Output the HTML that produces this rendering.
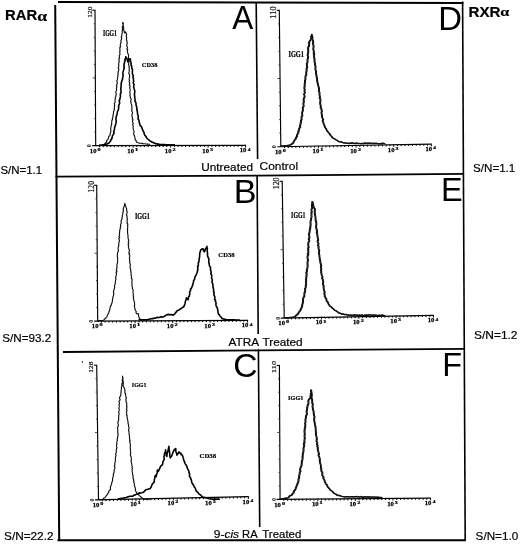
<!DOCTYPE html>
<html><head><meta charset="utf-8"><style>
html,body{margin:0;padding:0;background:#fff;width:520px;height:544px;overflow:hidden}
svg{position:absolute;left:0;top:0;display:block;will-change:transform}
</style></head><body>
<svg width="520" height="544" viewBox="0 0 520 544">
<rect width="520" height="544" fill="#fff"/>
<line x1="58" y1="1.9" x2="463.5" y2="3.0" stroke="#000" stroke-width="2.0"/>
<line x1="55.2" y1="5" x2="59.2" y2="541" stroke="#000" stroke-width="2.0"/>
<line x1="57.5" y1="540.3" x2="465.8" y2="540.3" stroke="#000" stroke-width="2.0"/>
<line x1="462.6" y1="1.5" x2="465.2" y2="540.5" stroke="#000" stroke-width="1.6"/>
<line x1="256.2" y1="2.5" x2="257.6" y2="159" stroke="#000" stroke-width="1.6"/>
<line x1="257.1" y1="175" x2="258.2" y2="334" stroke="#000" stroke-width="1.6"/>
<line x1="258.4" y1="349.5" x2="259.7" y2="527" stroke="#000" stroke-width="1.6"/>
<polyline points="55.5,176.6 256,175.6 463.6,173.9" fill="none" stroke="#000" stroke-width="1.9"/>
<polyline points="63,352 258,350.4 464.5,348.9" fill="none" stroke="#000" stroke-width="1.9"/>
<text transform="translate(232.30,28.80) scale(0.929,1)" font-family='"Liberation Sans", sans-serif' font-size="33.91">A</text>
<text transform="translate(438.37,29.60) scale(0.982,1)" font-family='"Liberation Sans", sans-serif' font-size="33.48">D</text>
<text transform="translate(233.77,202.50) scale(1.029,1)" font-family='"Liberation Sans", sans-serif' font-size="33.19">B</text>
<text transform="translate(440.91,201.30) scale(0.956,1)" font-family='"Liberation Sans", sans-serif' font-size="33.91">E</text>
<text transform="translate(233.32,377.36) scale(0.987,1)" font-family='"Liberation Sans", sans-serif' font-size="34.08">C</text>
<text transform="translate(442.30,376.00) scale(0.953,1)" font-family='"Liberation Sans", sans-serif' font-size="34.06">F</text>
<text transform="translate(5.06,20.40) scale(1.013,1)" font-family='Liberation Sans' font-weight="bold" font-style="normal" font-size="14.64" stroke="#000" stroke-width="0.20">RAR</text>
<text transform="translate(37.29,20.55) scale(1.176,1)" font-family='Liberation Serif' font-weight="bold" font-style="normal" font-size="15.00" stroke="#000" stroke-width="0.17">α</text>
<text transform="translate(468.44,16.50) scale(1.104,1)" font-family='Liberation Sans' font-weight="bold" font-style="normal" font-size="13.77" stroke="#000" stroke-width="0.18">RXR</text>
<text transform="translate(500.35,16.47) scale(1.281,1)" font-family='Liberation Serif' font-weight="bold" font-style="normal" font-size="12.71" stroke="#000" stroke-width="0.16">α</text>
<text transform="translate(0.43,174.40) scale(1.099,1)" font-family='Liberation Sans' font-weight="normal" font-style="normal" font-size="10.41" stroke="#000" stroke-width="0.18">S/N=1.1</text>
<text transform="translate(2.32,342.19) scale(1.065,1)" font-family='Liberation Sans' font-weight="normal" font-style="normal" font-size="10.95" stroke="#000" stroke-width="0.19">S/N=93.2</text>
<text transform="translate(4.01,539.69) scale(1.078,1)" font-family='Liberation Sans' font-weight="normal" font-style="normal" font-size="10.95" stroke="#000" stroke-width="0.19">S/N=22.2</text>
<text transform="translate(473.12,171.79) scale(1.085,1)" font-family='Liberation Sans' font-weight="normal" font-style="normal" font-size="10.68" stroke="#000" stroke-width="0.18">S/N=1.1</text>
<text transform="translate(474.10,338.69) scale(1.076,1)" font-family='Liberation Sans' font-weight="normal" font-style="normal" font-size="11.08" stroke="#000" stroke-width="0.19">S/N=1.2</text>
<text transform="translate(475.62,540.40) scale(1.153,1)" font-family='Liberation Sans' font-weight="normal" font-style="normal" font-size="10.14" stroke="#000" stroke-width="0.17">S/N=1.0</text>
<text transform="translate(201.26,170.68) scale(1.003,1)" font-family='Liberation Sans' font-weight="normal" font-style="normal" font-size="11.76" stroke="#000" stroke-width="0.20">Untreated</text>
<text transform="translate(259.60,169.98) scale(1.029,1)" font-family='Liberation Sans' font-weight="normal" font-style="normal" font-size="11.62" stroke="#000" stroke-width="0.19">Control</text>
<text transform="translate(228.50,345.70) scale(1.010,1)" font-family='Liberation Sans' font-weight="normal" font-style="normal" font-size="11.74" stroke="#000" stroke-width="0.20">ATRA</text>
<text transform="translate(262.46,345.59) scale(1.079,1)" font-family='Liberation Sans' font-weight="normal" font-style="normal" font-size="10.95" stroke="#000" stroke-width="0.19">Treated</text>
<text transform="translate(213.70,537.50) scale(1.159,1)" font-family='Liberation Sans' font-weight="normal" font-style="normal" font-size="10.41" stroke="#000" stroke-width="0.17">9-<tspan font-style="italic">cis</tspan></text>
<text transform="translate(242.10,537.50) scale(1.032,1)" font-family='Liberation Sans' font-weight="normal" font-style="normal" font-size="10.87" stroke="#000" stroke-width="0.19">RA</text>
<text transform="translate(262.27,537.70) scale(1.100,1)" font-family='Liberation Sans' font-weight="normal" font-style="normal" font-size="10.41" stroke="#000" stroke-width="0.18">Treated</text>
<line x1="95.0" y1="10.2" x2="95.7" y2="145.7" stroke="#000" stroke-width="1.15"/>
<line x1="92.4" y1="10.2" x2="95.5" y2="10.2" stroke="#000" stroke-width="1.1"/>
<line x1="93.66999999999999" y1="23.75" x2="95.07" y2="23.75" stroke="#333" stroke-width="0.9"/>
<line x1="93.74" y1="37.3" x2="95.14" y2="37.3" stroke="#333" stroke-width="0.9"/>
<line x1="93.81" y1="50.849999999999994" x2="95.21000000000001" y2="50.849999999999994" stroke="#333" stroke-width="0.9"/>
<line x1="93.88" y1="64.4" x2="95.28" y2="64.4" stroke="#333" stroke-width="0.9"/>
<line x1="92.75" y1="77.95" x2="95.35" y2="77.95" stroke="#333" stroke-width="0.9"/>
<line x1="94.02" y1="91.5" x2="95.42" y2="91.5" stroke="#333" stroke-width="0.9"/>
<line x1="94.09" y1="105.05" x2="95.49000000000001" y2="105.05" stroke="#333" stroke-width="0.9"/>
<line x1="94.16" y1="118.60000000000001" x2="95.56" y2="118.60000000000001" stroke="#333" stroke-width="0.9"/>
<line x1="94.22999999999999" y1="132.15" x2="95.63" y2="132.15" stroke="#333" stroke-width="0.9"/>
<line x1="92.2" y1="145.70933955970645" x2="245.6" y2="145.3" stroke="#000" stroke-width="1.2"/>
<line x1="99.4475" y1="145.69" x2="99.4475" y2="147.19" stroke="#000" stroke-width="1.0"/>
<line x1="103.19500000000001" y1="145.67999999999998" x2="103.19500000000001" y2="147.17999999999998" stroke="#000" stroke-width="1.0"/>
<line x1="106.9425" y1="145.67" x2="106.9425" y2="147.17" stroke="#000" stroke-width="1.0"/>
<line x1="110.69" y1="145.66" x2="110.69" y2="147.16" stroke="#000" stroke-width="1.0"/>
<line x1="114.4375" y1="145.64999999999998" x2="114.4375" y2="147.14999999999998" stroke="#000" stroke-width="1.0"/>
<line x1="118.185" y1="145.64" x2="118.185" y2="147.14" stroke="#000" stroke-width="1.0"/>
<line x1="121.9325" y1="145.63" x2="121.9325" y2="147.13" stroke="#000" stroke-width="1.0"/>
<line x1="125.68" y1="145.62" x2="125.68" y2="147.12" stroke="#000" stroke-width="1.0"/>
<line x1="129.4275" y1="145.60999999999999" x2="129.4275" y2="147.10999999999999" stroke="#000" stroke-width="1.0"/>
<line x1="133.175" y1="145.1" x2="133.175" y2="147.79999999999998" stroke="#000" stroke-width="0.9"/>
<line x1="136.92249999999999" y1="145.59" x2="136.92249999999999" y2="147.09" stroke="#000" stroke-width="1.0"/>
<line x1="140.67" y1="145.57999999999998" x2="140.67" y2="147.07999999999998" stroke="#000" stroke-width="1.0"/>
<line x1="144.4175" y1="145.57" x2="144.4175" y2="147.07" stroke="#000" stroke-width="1.0"/>
<line x1="148.165" y1="145.56" x2="148.165" y2="147.06" stroke="#000" stroke-width="1.0"/>
<line x1="151.9125" y1="145.55" x2="151.9125" y2="147.05" stroke="#000" stroke-width="1.0"/>
<line x1="155.66" y1="145.54" x2="155.66" y2="147.04" stroke="#000" stroke-width="1.0"/>
<line x1="159.4075" y1="145.53" x2="159.4075" y2="147.03" stroke="#000" stroke-width="1.0"/>
<line x1="163.155" y1="145.52" x2="163.155" y2="147.02" stroke="#000" stroke-width="1.0"/>
<line x1="166.90249999999997" y1="145.51" x2="166.90249999999997" y2="147.01" stroke="#000" stroke-width="1.0"/>
<line x1="170.64999999999998" y1="145.0" x2="170.64999999999998" y2="147.7" stroke="#000" stroke-width="0.9"/>
<line x1="174.39749999999998" y1="145.49" x2="174.39749999999998" y2="146.99" stroke="#000" stroke-width="1.0"/>
<line x1="178.14499999999998" y1="145.48" x2="178.14499999999998" y2="146.98" stroke="#000" stroke-width="1.0"/>
<line x1="181.89249999999998" y1="145.47" x2="181.89249999999998" y2="146.97" stroke="#000" stroke-width="1.0"/>
<line x1="185.64" y1="145.46" x2="185.64" y2="146.96" stroke="#000" stroke-width="1.0"/>
<line x1="189.3875" y1="145.45" x2="189.3875" y2="146.95" stroke="#000" stroke-width="1.0"/>
<line x1="193.135" y1="145.44" x2="193.135" y2="146.94" stroke="#000" stroke-width="1.0"/>
<line x1="196.8825" y1="145.43" x2="196.8825" y2="146.93" stroke="#000" stroke-width="1.0"/>
<line x1="200.63" y1="145.42000000000002" x2="200.63" y2="146.92000000000002" stroke="#000" stroke-width="1.0"/>
<line x1="204.3775" y1="145.41" x2="204.3775" y2="146.91" stroke="#000" stroke-width="1.0"/>
<line x1="208.125" y1="144.9" x2="208.125" y2="147.6" stroke="#000" stroke-width="0.9"/>
<line x1="211.8725" y1="145.39000000000001" x2="211.8725" y2="146.89000000000001" stroke="#000" stroke-width="1.0"/>
<line x1="215.62" y1="145.38" x2="215.62" y2="146.88" stroke="#000" stroke-width="1.0"/>
<line x1="219.36749999999998" y1="145.37" x2="219.36749999999998" y2="146.87" stroke="#000" stroke-width="1.0"/>
<line x1="223.115" y1="145.36" x2="223.115" y2="146.86" stroke="#000" stroke-width="1.0"/>
<line x1="226.86249999999995" y1="145.35000000000002" x2="226.86249999999995" y2="146.85000000000002" stroke="#000" stroke-width="1.0"/>
<line x1="230.61" y1="145.34" x2="230.61" y2="146.84" stroke="#000" stroke-width="1.0"/>
<line x1="234.35749999999996" y1="145.33" x2="234.35749999999996" y2="146.83" stroke="#000" stroke-width="1.0"/>
<line x1="238.10499999999996" y1="145.32000000000002" x2="238.10499999999996" y2="146.82000000000002" stroke="#000" stroke-width="1.0"/>
<line x1="241.85249999999996" y1="145.31" x2="241.85249999999996" y2="146.81" stroke="#000" stroke-width="1.0"/>
<line x1="245.6" y1="144.8" x2="245.6" y2="147.5" stroke="#000" stroke-width="1.0"/>
<text transform="translate(89.86,152.86) scale(0.991,1)" font-family='"Liberation Serif", serif' font-weight="bold" font-size="6.76" fill="#000" stroke="#000" stroke-width="0.25">10</text>
<text transform="translate(97.55,150.82) scale(1.481,1)" font-family='"Liberation Serif", serif' font-weight="bold" font-size="4.18" fill="#000" stroke="#000" stroke-width="0.20">0</text>
<text transform="translate(127.34,152.76) scale(0.991,1)" font-family='"Liberation Serif", serif' font-weight="bold" font-size="6.76" fill="#000" stroke="#000" stroke-width="0.25">10</text>
<text transform="translate(134.71,150.80) scale(1.656,1)" font-family='"Liberation Serif", serif' font-weight="bold" font-size="4.24" fill="#000" stroke="#000" stroke-width="0.20">1</text>
<text transform="translate(164.81,152.66) scale(0.991,1)" font-family='"Liberation Serif", serif' font-weight="bold" font-size="6.76" fill="#000" stroke="#000" stroke-width="0.25">10</text>
<text transform="translate(172.50,150.66) scale(1.459,1)" font-family='"Liberation Serif", serif' font-weight="bold" font-size="4.24" fill="#000" stroke="#000" stroke-width="0.20">2</text>
<text transform="translate(202.29,152.56) scale(0.991,1)" font-family='"Liberation Serif", serif' font-weight="bold" font-size="6.76" fill="#000" stroke="#000" stroke-width="0.25">10</text>
<text transform="translate(209.98,150.52) scale(1.447,1)" font-family='"Liberation Serif", serif' font-weight="bold" font-size="4.18" fill="#000" stroke="#000" stroke-width="0.20">3</text>
<text transform="translate(239.76,152.46) scale(0.991,1)" font-family='"Liberation Serif", serif' font-weight="bold" font-size="6.76" fill="#000" stroke="#000" stroke-width="0.25">10</text>
<text transform="translate(247.64,150.50) scale(1.284,1)" font-family='"Liberation Serif", serif' font-weight="bold" font-size="4.31" fill="#000" stroke="#000" stroke-width="0.20">4</text>
<text transform="translate(91.10,145.80) rotate(-90)" x="0" y="0" text-anchor="middle" font-family='"Liberation Serif", serif' font-size="6.2" font-weight="bold" fill="#111">0</text>
<text transform="translate(91.66,17.67) rotate(-90) scale(1.055,1)" font-family='"Liberation Serif", serif' font-weight="normal" font-size="7.06" fill="#222" stroke="#222" stroke-width="0.25">120</text>
<polyline points="99.0,145.0 100.2,144.9 101.5,144.8 102.7,144.7 103.9,144.6 104.8,143.7 105.8,142.8 106.8,142.2 106.6,140.7 107.6,139.7 108.2,138.9 108.5,137.5 108.8,136.5 109.8,135.6 110.2,134.0 110.2,133.0 110.9,132.0 110.7,130.1 110.8,128.9 110.7,127.9 111.0,126.8 111.2,125.8 111.7,124.3 111.6,122.9 111.9,121.5 111.8,120.3 112.5,119.5 112.4,117.9 113.0,117.4 112.9,115.7 113.1,114.5 113.6,113.5 113.4,111.8 114.1,110.7 114.1,109.3 114.4,108.9 114.4,107.4 114.6,105.9 114.6,104.8 114.3,103.6 115.1,102.3 115.1,101.5 115.0,100.3 115.4,98.3 115.3,97.6 115.9,96.3 116.0,95.0 116.3,93.9 115.8,92.5 116.0,91.2 116.6,90.2 116.5,89.1 116.4,88.2 116.9,86.8 116.4,85.7 116.9,84.2 117.3,83.7 117.1,82.1 116.8,81.0 117.2,80.0 117.6,78.9 117.4,78.1 118.0,76.4 117.6,75.6 118.2,74.4 118.1,72.9 118.1,71.7 118.3,71.4 118.9,69.6 118.6,68.8 118.2,67.9 118.7,66.8 118.8,65.2 118.6,64.5 118.8,63.1 118.8,62.3 119.4,61.3 118.9,60.2 119.1,58.4 119.6,58.2 119.3,56.3 119.3,55.4 120.0,54.7 119.9,53.6 119.7,51.8 120.0,51.6 119.9,50.0 119.9,49.0 119.8,47.5 120.7,46.7 120.2,45.6 120.4,44.4 120.5,43.5 121.3,41.9 120.8,40.8 121.3,39.8 121.8,38.2 121.2,37.1 121.7,36.0 121.9,35.2 122.0,33.8 122.3,32.6 122.2,31.5 122.5,30.2 122.3,28.9 122.6,28.0 122.3,26.8 122.9,25.9 123.2,24.8 122.5,23.3 123.0,22.4 123.3,23.3 123.0,24.6 123.6,26.6 123.4,27.6 123.8,28.8 123.6,30.0 124.3,31.8 124.5,33.0 125.7,31.8 126.0,33.2 126.5,33.8 126.6,35.0 126.2,36.5 126.7,37.4 126.6,38.1 126.4,40.0 126.9,40.4 126.9,41.9 127.3,42.8 126.9,44.6 126.6,45.6 127.3,46.9 127.5,47.7 126.8,49.0 127.7,49.8 127.3,51.3 127.6,52.5 128.0,53.7 128.6,55.4 128.6,56.3 128.4,57.5 128.5,58.8 128.4,59.8 129.0,61.2 128.7,61.8 128.8,63.6 128.6,64.7 128.9,65.8 129.3,66.5 129.0,67.6 129.3,68.5 129.1,70.2 129.2,71.3 129.1,71.9 128.7,73.5 129.5,74.6 129.6,75.6 129.6,76.7 129.4,78.2 129.1,78.8 129.3,80.0 129.4,80.7 129.2,81.9 129.8,83.3 129.3,84.8 130.0,85.6 129.9,87.1 129.7,87.7 130.0,88.8 130.2,90.0 130.1,90.9 129.8,92.3 130.0,93.5 130.2,95.0 129.9,95.5 130.2,96.7 130.4,97.6 131.1,98.7 131.1,100.0 130.7,100.9 130.8,102.0 131.2,103.5 131.6,104.6 131.8,105.7 131.9,106.4 131.8,108.1 131.9,108.8 132.0,109.8 131.6,110.8 132.5,112.3 132.5,113.0 132.1,113.9 132.0,115.1 132.0,116.2 132.5,117.7 132.2,118.9 133.1,119.7 132.3,121.3 132.8,122.2 133.3,123.4 132.6,124.6 133.1,125.6 133.1,126.5 133.1,127.2 133.1,128.3 133.3,129.4 133.8,130.6 134.1,132.0 133.7,132.9 133.7,133.9 134.1,135.3 134.6,136.1 134.8,137.8 135.2,138.5 135.2,139.7 136.1,140.5 136.4,141.9 137.4,142.4 138.2,142.8 139.5,143.3 140.9,143.2 142.2,143.4 143.5,143.7 144.8,143.8 146.1,144.0 147.4,144.1 148.7,144.3 150.0,144.4" fill="none" stroke="#111" stroke-width="1.15" stroke-linejoin="round" />
<polyline points="102.0,145.0 103.3,144.8 104.5,144.7 105.8,144.5 106.9,143.9 108.1,143.4 109.2,142.8 110.0,141.7 110.6,141.2 110.8,139.9 111.7,138.9 112.0,138.1 112.4,136.0 112.7,135.4 113.6,134.0 114.2,132.9 113.6,132.2 114.1,130.5 114.4,129.8 114.5,128.2 114.6,127.5 115.0,126.6 115.4,125.0 115.6,124.3 116.0,123.5 116.1,122.3 116.2,120.6 115.9,119.7 116.1,117.8 116.2,117.0 116.4,116.0 117.0,114.5 117.1,113.8 117.3,112.5 117.5,111.4 118.3,110.1 118.5,109.2 118.6,108.1 118.7,107.1 118.6,105.9 119.0,104.8 119.4,104.0 119.7,102.7 119.1,100.7 119.9,99.6 119.8,98.9 120.4,97.1 120.4,95.9 120.4,95.0 120.3,94.2 121.0,92.7 121.1,91.9 121.0,90.2 120.7,89.4 120.9,87.8 121.0,86.9 121.2,85.9 121.1,84.3 121.3,83.5 121.4,82.4 122.0,80.8 122.0,80.0 122.6,79.3 122.6,77.5 123.0,76.4 123.1,75.3 123.0,74.5 122.9,73.5 122.9,72.4 123.2,71.2 123.6,70.3 123.9,68.8 124.3,67.7 123.8,66.9 124.1,65.9 124.0,64.2 124.5,63.1 124.4,61.9 125.2,60.7 125.0,60.0 124.8,59.3 125.9,58.2 125.7,56.7 126.5,58.0 127.3,59.3 127.4,60.4 128.0,62.0 128.8,60.2 129.3,59.0 130.3,58.7 130.4,59.9 130.6,61.3 131.0,63.0 131.2,64.0 131.0,65.0 131.8,66.3 131.7,67.6 132.0,68.8 132.5,69.5 132.4,71.2 132.4,72.4 132.3,73.2 132.4,74.0 133.2,75.3 133.1,76.8 132.9,77.4 133.4,78.6 133.5,80.0 133.7,81.3 133.2,82.1 133.4,83.4 134.1,84.4 133.8,85.5 133.7,87.2 134.0,88.3 134.2,88.8 134.6,90.2 134.8,91.5 134.7,92.1 134.6,93.5 134.4,94.9 134.7,96.2 134.7,97.2 134.9,98.8 135.1,100.0 135.0,101.4 135.8,102.3 136.0,103.4 136.0,104.6 136.1,105.3 136.7,107.0 136.8,107.8 136.9,108.8 136.8,109.6 137.3,110.9 137.3,112.4 137.6,112.9 137.6,114.4 138.2,115.9 138.3,116.3 138.2,117.7 138.0,119.1 138.7,119.8 139.1,120.7 139.1,122.1 139.5,123.3 140.0,124.7 140.2,125.7 141.3,126.5 141.9,127.7 142.3,129.1 142.7,129.9 143.1,130.9 143.7,131.7 144.0,132.7 144.3,134.2 144.9,135.3 146.0,136.3 146.6,138.0 147.8,139.0 148.5,139.6 149.7,140.6 150.6,141.3 152.4,142.4 153.5,142.5 154.7,143.3 155.9,143.7 157.0,143.9 158.1,144.1 159.2,144.3 160.3,144.5 161.4,144.5 162.6,144.6 163.7,144.6 164.8,144.6 166.0,144.7 167.1,144.7 168.2,144.7 169.3,144.7 170.5,144.8 171.6,144.8 172.7,144.8 173.9,144.9 175.0,144.9" fill="none" stroke="#000" stroke-width="1.6" stroke-linejoin="round" />
<text transform="translate(102.93,35.82) scale(0.746,1)" font-family='"Liberation Serif", serif' font-weight="bold" font-size="7.61" fill="#000" stroke="#000" stroke-width="0.20">IGG1</text>
<text transform="translate(141.78,66.67) scale(0.974,1)" font-family='"Liberation Serif", serif' font-weight="bold" font-size="6.57" fill="#000" stroke="#000" stroke-width="0.20">CD38</text>
<line x1="279.3" y1="10.3" x2="280.8" y2="146.7" stroke="#000" stroke-width="1.15"/>
<line x1="276.7" y1="10.3" x2="279.8" y2="10.3" stroke="#000" stroke-width="1.1"/>
<line x1="278.05" y1="23.939999999999998" x2="279.45" y2="23.939999999999998" stroke="#333" stroke-width="0.9"/>
<line x1="278.20000000000005" y1="37.58" x2="279.6" y2="37.58" stroke="#333" stroke-width="0.9"/>
<line x1="278.35" y1="51.22" x2="279.75" y2="51.22" stroke="#333" stroke-width="0.9"/>
<line x1="278.50000000000006" y1="64.85999999999999" x2="279.90000000000003" y2="64.85999999999999" stroke="#333" stroke-width="0.9"/>
<line x1="277.45" y1="78.49999999999999" x2="280.05" y2="78.49999999999999" stroke="#333" stroke-width="0.9"/>
<line x1="278.8" y1="92.13999999999999" x2="280.2" y2="92.13999999999999" stroke="#333" stroke-width="0.9"/>
<line x1="278.95000000000005" y1="105.77999999999999" x2="280.35" y2="105.77999999999999" stroke="#333" stroke-width="0.9"/>
<line x1="279.1" y1="119.41999999999997" x2="280.5" y2="119.41999999999997" stroke="#333" stroke-width="0.9"/>
<line x1="279.25000000000006" y1="133.06" x2="280.65000000000003" y2="133.06" stroke="#333" stroke-width="0.9"/>
<line x1="277.3" y1="146.76046511627905" x2="431.3" y2="144.1" stroke="#000" stroke-width="1.2"/>
<line x1="284.5625" y1="146.635" x2="284.5625" y2="148.135" stroke="#000" stroke-width="1.0"/>
<line x1="288.325" y1="146.57" x2="288.325" y2="148.07" stroke="#000" stroke-width="1.0"/>
<line x1="292.08750000000003" y1="146.505" x2="292.08750000000003" y2="148.005" stroke="#000" stroke-width="1.0"/>
<line x1="295.85" y1="146.44" x2="295.85" y2="147.94" stroke="#000" stroke-width="1.0"/>
<line x1="299.6125" y1="146.375" x2="299.6125" y2="147.875" stroke="#000" stroke-width="1.0"/>
<line x1="303.375" y1="146.31" x2="303.375" y2="147.81" stroke="#000" stroke-width="1.0"/>
<line x1="307.1375" y1="146.24499999999998" x2="307.1375" y2="147.74499999999998" stroke="#000" stroke-width="1.0"/>
<line x1="310.90000000000003" y1="146.17999999999998" x2="310.90000000000003" y2="147.67999999999998" stroke="#000" stroke-width="1.0"/>
<line x1="314.6625" y1="146.11499999999998" x2="314.6625" y2="147.61499999999998" stroke="#000" stroke-width="1.0"/>
<line x1="318.425" y1="145.54999999999998" x2="318.425" y2="148.24999999999997" stroke="#000" stroke-width="0.9"/>
<line x1="322.1875" y1="145.98499999999999" x2="322.1875" y2="147.48499999999999" stroke="#000" stroke-width="1.0"/>
<line x1="325.95" y1="145.92" x2="325.95" y2="147.42" stroke="#000" stroke-width="1.0"/>
<line x1="329.71250000000003" y1="145.855" x2="329.71250000000003" y2="147.355" stroke="#000" stroke-width="1.0"/>
<line x1="333.475" y1="145.79" x2="333.475" y2="147.29" stroke="#000" stroke-width="1.0"/>
<line x1="337.2375" y1="145.725" x2="337.2375" y2="147.225" stroke="#000" stroke-width="1.0"/>
<line x1="341.0" y1="145.66" x2="341.0" y2="147.16" stroke="#000" stroke-width="1.0"/>
<line x1="344.7625" y1="145.595" x2="344.7625" y2="147.095" stroke="#000" stroke-width="1.0"/>
<line x1="348.525" y1="145.53" x2="348.525" y2="147.03" stroke="#000" stroke-width="1.0"/>
<line x1="352.2875" y1="145.465" x2="352.2875" y2="146.965" stroke="#000" stroke-width="1.0"/>
<line x1="356.05" y1="144.89999999999998" x2="356.05" y2="147.59999999999997" stroke="#000" stroke-width="0.9"/>
<line x1="359.8125" y1="145.33499999999998" x2="359.8125" y2="146.83499999999998" stroke="#000" stroke-width="1.0"/>
<line x1="363.57500000000005" y1="145.26999999999998" x2="363.57500000000005" y2="146.76999999999998" stroke="#000" stroke-width="1.0"/>
<line x1="367.3375" y1="145.20499999999998" x2="367.3375" y2="146.70499999999998" stroke="#000" stroke-width="1.0"/>
<line x1="371.1" y1="145.14" x2="371.1" y2="146.64" stroke="#000" stroke-width="1.0"/>
<line x1="374.8625" y1="145.075" x2="374.8625" y2="146.575" stroke="#000" stroke-width="1.0"/>
<line x1="378.625" y1="145.01" x2="378.625" y2="146.51" stroke="#000" stroke-width="1.0"/>
<line x1="382.38750000000005" y1="144.945" x2="382.38750000000005" y2="146.445" stroke="#000" stroke-width="1.0"/>
<line x1="386.15" y1="144.88" x2="386.15" y2="146.38" stroke="#000" stroke-width="1.0"/>
<line x1="389.9125" y1="144.815" x2="389.9125" y2="146.315" stroke="#000" stroke-width="1.0"/>
<line x1="393.675" y1="144.25" x2="393.675" y2="146.95" stroke="#000" stroke-width="0.9"/>
<line x1="397.4375" y1="144.685" x2="397.4375" y2="146.185" stroke="#000" stroke-width="1.0"/>
<line x1="401.20000000000005" y1="144.62" x2="401.20000000000005" y2="146.12" stroke="#000" stroke-width="1.0"/>
<line x1="404.9625" y1="144.555" x2="404.9625" y2="146.055" stroke="#000" stroke-width="1.0"/>
<line x1="408.725" y1="144.48999999999998" x2="408.725" y2="145.98999999999998" stroke="#000" stroke-width="1.0"/>
<line x1="412.4875" y1="144.42499999999998" x2="412.4875" y2="145.92499999999998" stroke="#000" stroke-width="1.0"/>
<line x1="416.25" y1="144.35999999999999" x2="416.25" y2="145.85999999999999" stroke="#000" stroke-width="1.0"/>
<line x1="420.01250000000005" y1="144.295" x2="420.01250000000005" y2="145.795" stroke="#000" stroke-width="1.0"/>
<line x1="423.775" y1="144.23" x2="423.775" y2="145.73" stroke="#000" stroke-width="1.0"/>
<line x1="427.5375" y1="144.165" x2="427.5375" y2="145.665" stroke="#000" stroke-width="1.0"/>
<line x1="431.3" y1="143.6" x2="431.3" y2="146.29999999999998" stroke="#000" stroke-width="1.0"/>
<text transform="translate(274.96,153.86) scale(0.991,1)" font-family='"Liberation Serif", serif' font-weight="bold" font-size="6.76" fill="#000" stroke="#000" stroke-width="0.25">10</text>
<text transform="translate(282.65,151.82) scale(1.481,1)" font-family='"Liberation Serif", serif' font-weight="bold" font-size="4.18" fill="#000" stroke="#000" stroke-width="0.20">0</text>
<text transform="translate(312.59,153.21) scale(0.991,1)" font-family='"Liberation Serif", serif' font-weight="bold" font-size="6.76" fill="#000" stroke="#000" stroke-width="0.25">10</text>
<text transform="translate(319.96,151.25) scale(1.656,1)" font-family='"Liberation Serif", serif' font-weight="bold" font-size="4.24" fill="#000" stroke="#000" stroke-width="0.20">1</text>
<text transform="translate(350.21,152.56) scale(0.991,1)" font-family='"Liberation Serif", serif' font-weight="bold" font-size="6.76" fill="#000" stroke="#000" stroke-width="0.25">10</text>
<text transform="translate(357.90,150.56) scale(1.459,1)" font-family='"Liberation Serif", serif' font-weight="bold" font-size="4.24" fill="#000" stroke="#000" stroke-width="0.20">2</text>
<text transform="translate(387.84,151.91) scale(0.991,1)" font-family='"Liberation Serif", serif' font-weight="bold" font-size="6.76" fill="#000" stroke="#000" stroke-width="0.25">10</text>
<text transform="translate(395.53,149.87) scale(1.447,1)" font-family='"Liberation Serif", serif' font-weight="bold" font-size="4.18" fill="#000" stroke="#000" stroke-width="0.20">3</text>
<text transform="translate(425.46,151.26) scale(0.991,1)" font-family='"Liberation Serif", serif' font-weight="bold" font-size="6.76" fill="#000" stroke="#000" stroke-width="0.25">10</text>
<text transform="translate(433.34,149.30) scale(1.284,1)" font-family='"Liberation Serif", serif' font-weight="bold" font-size="4.31" fill="#000" stroke="#000" stroke-width="0.20">4</text>
<text transform="translate(276.20,146.80) rotate(-90)" x="0" y="0" text-anchor="middle" font-family='"Liberation Serif", serif' font-size="6.2" font-weight="bold" fill="#111">0</text>
<text transform="translate(275.65,18.65) rotate(-90) scale(1.135,1)" font-family='"Liberation Serif", serif' font-weight="normal" font-size="7.35" fill="#222" stroke="#222" stroke-width="0.25">110</text>
<polyline points="280.6,146.0 281.8,145.9 283.0,145.8 284.2,145.8 285.4,145.7 286.6,145.6 287.7,145.3 288.8,145.1 289.8,144.8 290.9,144.5 291.5,143.7 292.9,142.7 293.5,141.4 293.9,140.5 294.7,139.5 295.3,138.8 295.7,137.4 296.6,136.3 296.6,134.8 297.2,134.0 297.5,133.2 298.3,131.6 297.8,131.2 298.8,129.6 298.6,128.8 299.5,127.2 299.9,126.8 299.5,125.6 300.2,124.2 300.2,122.7 300.7,121.9 300.5,120.6 301.4,119.1 301.0,118.1 301.2,116.7 301.8,115.9 301.9,114.5 301.6,113.4 301.9,111.6 302.2,111.3 302.6,109.6 302.3,108.2 302.5,107.3 303.3,106.0 303.1,104.7 303.0,103.3 303.3,102.5 303.5,100.9 303.2,99.7 303.4,98.7 304.0,97.0 304.3,96.6 304.0,95.0 303.6,94.3 304.5,92.5 304.3,91.6 304.1,90.8 304.4,89.4 303.9,88.3 303.9,87.6 304.3,86.4 304.3,84.8 304.3,83.9 304.5,82.9 304.6,81.9 304.6,80.4 305.0,79.4 305.0,78.2 305.0,76.6 305.3,75.8 305.9,74.8 305.8,73.5 305.8,72.1 306.1,71.3 306.4,69.9 306.0,68.8 306.8,67.4 306.6,66.3 306.5,64.8 306.5,63.4 307.1,62.2 307.2,61.3 307.0,60.1 307.3,58.9 307.7,57.6 307.8,56.3 307.2,55.4 307.4,54.3 307.7,52.7 307.9,51.9 307.8,51.1 307.7,49.2 307.7,48.6 307.9,46.8 308.5,46.1 308.7,45.3 308.8,43.4 308.5,42.5 308.9,41.7 310.1,40.0 310.6,38.7 311.0,37.3 310.6,36.2 311.6,35.9 311.5,34.4 311.7,35.7 311.9,36.3 312.0,38.0 312.1,39.4 312.4,40.1 312.8,41.7 312.6,42.5 312.5,43.6 313.0,44.7 313.1,46.1 313.2,47.1 312.9,47.9 312.9,49.5 313.4,50.7 313.5,51.9 313.3,53.3 314.0,53.8 313.4,55.0 313.8,56.9 313.7,57.9 314.4,59.0 313.9,59.8 314.3,61.3 314.2,62.7 314.8,63.4 314.6,64.5 315.1,66.3 315.1,67.0 314.9,68.5 315.2,70.1 315.6,70.9 315.7,72.1 315.5,73.2 315.8,74.6 316.3,76.0 316.1,77.1 316.8,77.9 316.6,79.6 316.9,80.8 316.8,82.0 317.3,82.9 317.6,83.8 317.7,85.2 318.2,86.5 318.3,87.3 318.7,88.8 318.5,90.0 318.5,91.4 319.2,92.3 319.0,93.9 319.2,95.0 319.5,96.5 319.6,97.6 319.2,98.3 320.1,99.2 320.0,101.0 319.8,102.0 319.7,102.6 319.9,104.5 320.4,105.6 320.4,106.5 320.2,107.8 321.0,108.5 321.1,109.8 321.5,111.1 321.1,112.5 321.2,113.8 321.6,114.9 321.6,116.1 321.7,117.3 322.1,118.1 322.8,119.1 322.3,120.8 322.6,121.7 323.0,122.5 323.3,123.8 324.1,125.3 324.1,125.8 324.8,127.6 325.5,128.3 326.1,129.6 326.8,131.0 327.5,131.6 327.9,132.4 329.2,133.6 329.4,134.2 330.2,135.4 331.5,136.5 331.9,137.5 333.3,138.4 334.2,138.8 335.6,139.8 336.8,140.2 337.7,141.1 338.8,141.7 340.0,141.6 341.0,141.7 342.4,142.6 343.7,142.5 344.6,142.9 346.1,143.0 347.1,143.2 347.9,143.4 349.5,143.1 350.7,143.2 351.3,142.9 352.5,142.8 353.7,143.4 355.4,143.1 356.2,142.8 357.1,143.5 358.8,143.3 359.6,143.3 360.8,143.6 362.1,143.2 363.0,143.5 364.0,143.2 365.1,142.9 366.6,143.5 367.8,142.9 368.4,143.3 370.4,143.0 371.0,143.3 372.6,143.4 373.5,143.2 374.6,143.3 376.1,143.1 376.6,143.4 378.1,143.5 378.9,143.6 380.0,143.6 381.4,143.4 382.0,143.1 383.6,143.3 384.6,143.6" fill="none" stroke="#111" stroke-width="1.2" stroke-linejoin="round" />
<polyline points="281.4,146.2 282.6,146.1 283.8,146.0 285.0,146.0 286.2,145.9 287.4,145.8 288.5,145.5 289.5,145.2 290.6,145.0 291.7,144.7 292.3,143.9 293.7,142.9 294.3,141.6 294.7,140.7 295.5,139.7 296.1,139.0 296.5,137.6 297.4,136.5 297.4,135.0 298.0,134.2 298.3,133.4 299.1,131.8 298.6,131.4 299.6,129.8 299.4,129.0 300.3,127.4 300.7,127.0 300.3,125.8 301.0,124.4 301.0,122.9 301.5,122.1 301.3,120.8 302.2,119.3 301.8,118.3 302.0,116.9 302.6,116.1 302.7,114.7 302.4,113.6 302.7,111.8 303.0,111.5 303.4,109.8 303.1,108.4 303.3,107.5 304.1,106.2 303.9,104.9 303.8,103.5 304.1,102.7 304.3,101.1 304.0,99.9 304.2,98.9 304.8,97.2 305.1,96.8 304.8,95.2 304.4,94.5 305.3,92.7 305.1,91.8 304.9,91.0 305.2,89.6 304.7,88.5 304.7,87.8 305.1,86.6 305.1,85.0 305.1,84.1 305.3,83.1 305.4,82.1 305.4,80.6 305.8,79.6 305.8,78.4 305.8,76.8 306.1,76.0 306.7,75.0 306.6,73.7 306.6,72.3 306.9,71.5 307.2,70.1 306.8,69.0 307.6,67.6 307.4,66.5 307.3,65.0 307.3,63.6 307.9,62.4 308.0,61.5 307.8,60.3 308.1,59.1 308.5,57.8 308.6,56.5 308.0,55.6 308.2,54.5 308.5,52.9 308.7,52.1 308.6,51.3 308.5,49.4 308.5,48.8 308.7,47.0 309.3,46.3 309.5,45.5 309.6,43.6 309.3,42.7 309.7,41.9 310.9,40.2 311.4,38.9 311.8,37.5 311.4,36.4 312.4,36.1 312.3,34.6 312.5,35.9 312.7,36.5 312.8,38.2 312.9,39.6 313.2,40.3 313.6,41.9 313.4,42.7 313.3,43.8 313.8,44.9 313.9,46.3 314.0,47.3 313.7,48.1 313.7,49.7 314.2,50.9 314.3,52.1 314.1,53.5 314.8,54.0 314.2,55.2 314.6,57.1 314.5,58.1 315.2,59.2 314.7,60.0 315.1,61.5 315.0,62.9 315.6,63.6 315.4,64.7 315.9,66.5 315.9,67.2 315.7,68.7 316.0,70.3 316.4,71.1 316.5,72.3 316.3,73.4 316.6,74.8 317.1,76.2 316.9,77.3 317.6,78.1 317.4,79.8 317.7,81.0 317.6,82.2 318.1,83.1 318.4,84.0 318.5,85.4 319.0,86.7 319.1,87.5 319.5,89.0 319.3,90.2 319.3,91.6 320.0,92.5 319.8,94.1 320.0,95.2 320.3,96.7 320.4,97.8 320.0,98.5 320.9,99.4 320.8,101.2 320.6,102.2 320.5,102.8 320.7,104.7 321.2,105.8 321.2,106.7 321.0,108.0 321.8,108.7 321.9,110.0 322.3,111.3 321.9,112.7 322.0,114.0 322.4,115.1 322.4,116.3 322.5,117.5 322.9,118.3 323.6,119.3 323.1,121.0 323.4,121.9 323.8,122.7 324.1,124.0 324.9,125.5 324.9,126.0 325.6,127.8 326.3,128.5 326.9,129.8 327.6,131.2 328.3,131.8 328.7,132.6 330.0,133.8 330.2,134.4 331.0,135.6 332.3,136.7 332.7,137.7 334.1,138.6 335.0,139.0 336.4,140.0 337.6,140.4 338.5,141.3 339.6,141.9 340.8,141.8 341.8,141.9 343.2,142.8 344.5,142.7 345.4,143.1 346.9,143.2 347.9,143.4 348.7,143.6 350.3,143.3 351.5,143.4 352.1,143.1 353.3,143.0 354.5,143.6 356.2,143.3 357.0,143.0 357.9,143.7 359.6,143.5 360.4,143.5 361.6,143.8 362.9,143.4 363.8,143.7 364.8,143.4 365.9,143.1 367.4,143.7 368.6,143.1 369.2,143.5 371.2,143.2 371.8,143.5 373.4,143.6 374.3,143.4 375.4,143.5 376.9,143.3 377.4,143.6 378.9,143.7 379.7,143.8 380.8,143.8 382.2,143.6 382.8,143.3 384.4,143.5 385.4,143.8" fill="none" stroke="#111" stroke-width="1.2" stroke-linejoin="round" />
<text transform="translate(288.51,56.52) scale(0.829,1)" font-family='"Liberation Serif", serif' font-weight="bold" font-size="7.61" fill="#000" stroke="#000" stroke-width="0.20">IGG1</text>
<line x1="96.7" y1="185.3" x2="97.7" y2="321.2" stroke="#000" stroke-width="1.15"/>
<line x1="94.10000000000001" y1="185.3" x2="97.2" y2="185.3" stroke="#000" stroke-width="1.1"/>
<line x1="95.39999999999999" y1="198.89000000000001" x2="96.8" y2="198.89000000000001" stroke="#333" stroke-width="0.9"/>
<line x1="95.5" y1="212.48000000000002" x2="96.9" y2="212.48000000000002" stroke="#333" stroke-width="0.9"/>
<line x1="95.6" y1="226.07" x2="97.0" y2="226.07" stroke="#333" stroke-width="0.9"/>
<line x1="95.7" y1="239.66" x2="97.10000000000001" y2="239.66" stroke="#333" stroke-width="0.9"/>
<line x1="94.60000000000001" y1="253.25" x2="97.2" y2="253.25" stroke="#333" stroke-width="0.9"/>
<line x1="95.89999999999999" y1="266.84000000000003" x2="97.3" y2="266.84000000000003" stroke="#333" stroke-width="0.9"/>
<line x1="96.0" y1="280.43" x2="97.4" y2="280.43" stroke="#333" stroke-width="0.9"/>
<line x1="96.1" y1="294.02" x2="97.5" y2="294.02" stroke="#333" stroke-width="0.9"/>
<line x1="96.2" y1="307.61" x2="97.60000000000001" y2="307.61" stroke="#333" stroke-width="0.9"/>
<line x1="94.2" y1="321.22101400933957" x2="247.6" y2="320.3" stroke="#000" stroke-width="1.2"/>
<line x1="101.4475" y1="321.1775" x2="101.4475" y2="322.6775" stroke="#000" stroke-width="1.0"/>
<line x1="105.19500000000001" y1="321.155" x2="105.19500000000001" y2="322.655" stroke="#000" stroke-width="1.0"/>
<line x1="108.9425" y1="321.1325" x2="108.9425" y2="322.6325" stroke="#000" stroke-width="1.0"/>
<line x1="112.69" y1="321.11" x2="112.69" y2="322.61" stroke="#000" stroke-width="1.0"/>
<line x1="116.4375" y1="321.0875" x2="116.4375" y2="322.5875" stroke="#000" stroke-width="1.0"/>
<line x1="120.185" y1="321.065" x2="120.185" y2="322.565" stroke="#000" stroke-width="1.0"/>
<line x1="123.9325" y1="321.0425" x2="123.9325" y2="322.5425" stroke="#000" stroke-width="1.0"/>
<line x1="127.68" y1="321.02" x2="127.68" y2="322.52" stroke="#000" stroke-width="1.0"/>
<line x1="131.4275" y1="320.9975" x2="131.4275" y2="322.4975" stroke="#000" stroke-width="1.0"/>
<line x1="135.175" y1="320.47499999999997" x2="135.175" y2="323.17499999999995" stroke="#000" stroke-width="0.9"/>
<line x1="138.92249999999999" y1="320.9525" x2="138.92249999999999" y2="322.4525" stroke="#000" stroke-width="1.0"/>
<line x1="142.67" y1="320.93" x2="142.67" y2="322.43" stroke="#000" stroke-width="1.0"/>
<line x1="146.4175" y1="320.90749999999997" x2="146.4175" y2="322.40749999999997" stroke="#000" stroke-width="1.0"/>
<line x1="150.165" y1="320.885" x2="150.165" y2="322.385" stroke="#000" stroke-width="1.0"/>
<line x1="153.9125" y1="320.8625" x2="153.9125" y2="322.3625" stroke="#000" stroke-width="1.0"/>
<line x1="157.66" y1="320.84" x2="157.66" y2="322.34" stroke="#000" stroke-width="1.0"/>
<line x1="161.4075" y1="320.8175" x2="161.4075" y2="322.3175" stroke="#000" stroke-width="1.0"/>
<line x1="165.155" y1="320.795" x2="165.155" y2="322.295" stroke="#000" stroke-width="1.0"/>
<line x1="168.90249999999997" y1="320.7725" x2="168.90249999999997" y2="322.2725" stroke="#000" stroke-width="1.0"/>
<line x1="172.64999999999998" y1="320.25" x2="172.64999999999998" y2="322.95" stroke="#000" stroke-width="0.9"/>
<line x1="176.39749999999998" y1="320.7275" x2="176.39749999999998" y2="322.2275" stroke="#000" stroke-width="1.0"/>
<line x1="180.14499999999998" y1="320.705" x2="180.14499999999998" y2="322.205" stroke="#000" stroke-width="1.0"/>
<line x1="183.89249999999998" y1="320.6825" x2="183.89249999999998" y2="322.1825" stroke="#000" stroke-width="1.0"/>
<line x1="187.64" y1="320.66" x2="187.64" y2="322.16" stroke="#000" stroke-width="1.0"/>
<line x1="191.3875" y1="320.6375" x2="191.3875" y2="322.1375" stroke="#000" stroke-width="1.0"/>
<line x1="195.135" y1="320.615" x2="195.135" y2="322.115" stroke="#000" stroke-width="1.0"/>
<line x1="198.8825" y1="320.59250000000003" x2="198.8825" y2="322.09250000000003" stroke="#000" stroke-width="1.0"/>
<line x1="202.63" y1="320.57" x2="202.63" y2="322.07" stroke="#000" stroke-width="1.0"/>
<line x1="206.3775" y1="320.5475" x2="206.3775" y2="322.0475" stroke="#000" stroke-width="1.0"/>
<line x1="210.125" y1="320.025" x2="210.125" y2="322.72499999999997" stroke="#000" stroke-width="0.9"/>
<line x1="213.8725" y1="320.5025" x2="213.8725" y2="322.0025" stroke="#000" stroke-width="1.0"/>
<line x1="217.62" y1="320.48" x2="217.62" y2="321.98" stroke="#000" stroke-width="1.0"/>
<line x1="221.36749999999998" y1="320.4575" x2="221.36749999999998" y2="321.9575" stroke="#000" stroke-width="1.0"/>
<line x1="225.115" y1="320.435" x2="225.115" y2="321.935" stroke="#000" stroke-width="1.0"/>
<line x1="228.86249999999995" y1="320.4125" x2="228.86249999999995" y2="321.9125" stroke="#000" stroke-width="1.0"/>
<line x1="232.61" y1="320.39" x2="232.61" y2="321.89" stroke="#000" stroke-width="1.0"/>
<line x1="236.35749999999996" y1="320.3675" x2="236.35749999999996" y2="321.8675" stroke="#000" stroke-width="1.0"/>
<line x1="240.10499999999996" y1="320.345" x2="240.10499999999996" y2="321.845" stroke="#000" stroke-width="1.0"/>
<line x1="243.85249999999996" y1="320.3225" x2="243.85249999999996" y2="321.8225" stroke="#000" stroke-width="1.0"/>
<line x1="247.6" y1="319.8" x2="247.6" y2="322.5" stroke="#000" stroke-width="1.0"/>
<text transform="translate(91.86,328.36) scale(0.991,1)" font-family='"Liberation Serif", serif' font-weight="bold" font-size="6.76" fill="#000" stroke="#000" stroke-width="0.25">10</text>
<text transform="translate(99.55,326.32) scale(1.481,1)" font-family='"Liberation Serif", serif' font-weight="bold" font-size="4.18" fill="#000" stroke="#000" stroke-width="0.20">0</text>
<text transform="translate(129.34,328.14) scale(0.991,1)" font-family='"Liberation Serif", serif' font-weight="bold" font-size="6.76" fill="#000" stroke="#000" stroke-width="0.25">10</text>
<text transform="translate(136.71,326.17) scale(1.656,1)" font-family='"Liberation Serif", serif' font-weight="bold" font-size="4.24" fill="#000" stroke="#000" stroke-width="0.20">1</text>
<text transform="translate(166.81,327.91) scale(0.991,1)" font-family='"Liberation Serif", serif' font-weight="bold" font-size="6.76" fill="#000" stroke="#000" stroke-width="0.25">10</text>
<text transform="translate(174.50,325.91) scale(1.459,1)" font-family='"Liberation Serif", serif' font-weight="bold" font-size="4.24" fill="#000" stroke="#000" stroke-width="0.20">2</text>
<text transform="translate(204.29,327.69) scale(0.991,1)" font-family='"Liberation Serif", serif' font-weight="bold" font-size="6.76" fill="#000" stroke="#000" stroke-width="0.25">10</text>
<text transform="translate(211.98,325.64) scale(1.447,1)" font-family='"Liberation Serif", serif' font-weight="bold" font-size="4.18" fill="#000" stroke="#000" stroke-width="0.20">3</text>
<text transform="translate(241.76,327.46) scale(0.991,1)" font-family='"Liberation Serif", serif' font-weight="bold" font-size="6.76" fill="#000" stroke="#000" stroke-width="0.25">10</text>
<text transform="translate(249.64,325.50) scale(1.284,1)" font-family='"Liberation Serif", serif' font-weight="bold" font-size="4.31" fill="#000" stroke="#000" stroke-width="0.20">4</text>
<text transform="translate(93.10,321.30) rotate(-90)" x="0" y="0" text-anchor="middle" font-family='"Liberation Serif", serif' font-size="6.2" font-weight="bold" fill="#111">0</text>
<text transform="translate(93.54,192.38) rotate(-90) scale(0.913,1)" font-family='"Liberation Serif", serif' font-weight="normal" font-size="8.24" fill="#222" stroke="#222" stroke-width="0.25">120</text>
<polyline points="98.0,320.6 99.3,320.6 100.5,320.6 101.8,320.6 103.1,320.6 103.9,319.8 104.7,319.0 105.5,318.3 106.6,317.1 107.1,316.5 107.2,315.5 107.9,314.4 108.8,312.8 108.8,311.7 109.2,311.3 109.8,309.8 109.9,308.5 110.2,307.1 110.5,305.9 111.4,305.3 111.3,304.2 112.2,302.5 112.3,301.2 112.5,300.4 112.5,299.2 112.8,298.3 112.9,296.9 113.4,295.8 113.5,295.0 113.9,293.4 113.4,292.8 113.6,291.4 113.8,290.6 114.2,288.9 114.7,287.6 114.5,286.9 114.5,285.9 114.7,284.9 115.4,283.6 115.2,282.8 115.5,281.5 115.5,280.5 116.0,278.7 115.6,277.5 115.8,276.7 116.1,275.6 116.4,274.7 116.5,273.5 116.1,272.1 117.0,271.7 116.3,270.0 116.9,269.1 116.6,268.3 117.1,266.8 116.9,265.5 116.9,265.1 117.2,263.6 117.7,262.3 117.4,260.9 117.8,259.9 117.6,259.4 117.6,258.3 117.4,256.4 117.2,255.2 117.5,254.4 117.5,252.9 117.5,252.6 118.3,251.5 118.4,250.3 118.1,248.8 118.1,247.9 118.5,246.3 118.9,245.6 118.6,244.0 118.9,243.5 118.9,242.0 119.4,240.9 119.4,239.9 118.7,238.6 119.7,237.4 118.9,236.6 119.5,235.4 119.5,234.2 119.5,232.7 119.7,231.6 119.7,230.5 119.9,229.4 120.5,228.7 120.1,227.6 120.8,226.7 120.4,224.9 120.7,224.3 121.2,223.3 121.2,221.9 121.2,220.3 121.8,219.6 122.0,218.8 121.9,217.7 122.5,216.5 122.3,215.4 122.7,214.4 122.9,212.7 123.0,211.8 123.5,210.7 123.1,209.4 123.5,208.5 123.5,207.5 124.4,206.0 124.7,204.2 124.9,203.3 125.2,204.7 125.7,205.9 126.0,207.2 126.6,208.5 126.6,209.3 126.7,210.8 127.2,211.7 127.0,213.4 126.5,214.4 126.5,214.8 127.0,216.2 127.1,217.8 127.4,219.0 127.1,219.8 127.1,220.8 127.3,221.9 127.0,222.9 127.9,224.4 127.7,224.8 127.6,226.4 127.8,227.8 127.3,228.7 127.7,230.0 127.4,231.2 127.7,232.3 127.5,232.7 127.8,234.4 128.0,235.4 128.0,236.5 128.0,237.4 128.1,238.4 128.6,239.8 128.8,240.7 128.2,242.3 128.8,243.6 128.2,244.2 128.4,245.6 128.7,246.3 128.4,247.7 128.9,248.8 129.4,250.4 129.2,251.4 128.8,252.6 129.6,253.2 128.9,254.4 129.7,255.2 129.7,256.9 129.4,257.5 129.5,258.8 129.6,260.3 130.0,261.6 129.5,262.6 130.0,263.6 130.4,264.5 130.1,265.7 130.2,267.3 130.1,268.2 130.6,269.0 130.9,270.3 130.6,271.0 131.0,272.0 131.1,273.5 131.1,274.5 131.1,275.3 131.6,276.5 131.3,278.2 132.0,279.2 132.1,280.4 131.9,281.1 131.8,282.2 132.1,283.5 131.9,284.4 132.0,286.0 132.4,286.9 132.3,288.3 132.7,289.2 133.2,290.0 133.0,291.1 133.1,292.4 133.3,294.0 133.3,295.0 133.2,296.1 133.6,296.6 133.3,298.5 133.6,298.9 133.8,300.4 134.4,301.7 134.5,302.8 134.5,303.7 134.7,305.0 134.2,306.1 134.7,307.1 134.7,308.0 135.1,309.4 135.4,310.5 136.3,311.6 136.0,312.7 136.7,313.8 138.2,313.5 138.6,315.2 138.7,316.5 139.0,317.3 140.1,318.8 140.8,320.0 142.2,320.1 143.6,320.2 145.0,320.3" fill="none" stroke="#111" stroke-width="1.15" stroke-linejoin="round" />
<polyline points="138.5,319.8 139.6,319.8 140.8,319.8 141.9,319.8 143.1,319.8 144.2,319.8 145.4,319.8 146.5,319.8 147.7,319.6 148.8,319.3 150.0,319.1 151.1,318.8 152.3,318.6 153.3,318.6 154.4,318.1 155.5,318.1 157.2,317.3 158.1,317.5 158.9,317.6 160.6,316.9 161.2,316.8 162.7,317.1 163.8,316.7 165.5,315.5 167.3,314.6 168.4,314.4 169.7,314.7 170.8,314.6 172.1,314.7 173.1,315.2 174.5,314.2 175.4,312.9 176.2,312.1 176.9,311.0 177.6,310.6 178.8,310.0 179.8,309.3 181.4,308.4 182.3,307.7 184.0,306.5 184.3,305.3 184.9,304.1 185.2,303.1 185.1,302.2 185.8,300.4 186.3,298.8 186.3,297.9 187.1,298.6 188.1,299.6 188.4,298.3 188.4,297.0 189.4,296.2 189.4,295.2 189.8,293.8 189.6,292.6 189.9,291.5 190.6,290.6 190.5,289.1 191.5,288.1 192.0,286.7 192.7,285.4 192.6,284.4 193.3,283.2 193.5,281.9 193.5,280.9 193.9,280.3 194.6,279.1 194.8,277.4 195.1,276.7 196.2,274.9 196.5,274.0 197.2,272.2 197.4,271.2 197.9,269.9 197.6,269.2 197.9,267.6 197.6,266.1 198.4,265.5 198.3,263.9 198.4,262.4 198.9,262.1 199.0,260.5 199.1,259.3 199.2,258.4 199.6,257.6 199.6,255.8 199.6,255.4 199.8,254.2 199.7,252.9 200.3,251.9 200.6,250.1 201.7,249.1 202.9,248.7 203.7,249.8 203.4,250.5 204.3,251.9 205.1,250.6 205.0,249.9 205.7,248.7 206.7,247.2 207.0,246.4 206.8,247.2 207.4,248.6 207.2,249.7 207.2,250.7 207.4,252.4 207.6,253.6 207.5,254.2 207.5,255.6 207.7,256.4 208.6,258.3 208.9,259.3 208.8,260.4 208.7,261.6 208.8,262.7 209.3,263.9 209.2,265.1 210.1,266.8 210.6,267.9 210.4,269.4 210.7,270.3 211.0,271.4 211.2,272.5 210.8,273.8 211.8,275.2 211.6,276.7 211.6,278.2 212.2,279.5 212.3,280.3 211.9,282.2 212.5,283.2 212.8,284.3 213.0,285.9 212.9,286.7 213.2,288.1 213.5,289.1 213.7,290.6 213.5,291.5 214.1,292.5 213.8,294.1 214.0,295.1 214.5,296.2 215.0,297.4 214.6,298.8 214.7,299.5 215.6,300.2 215.3,301.4 216.1,302.7 216.0,303.6 215.9,304.7 216.2,306.1 216.7,306.9 217.4,308.3 217.6,309.4 217.9,311.1 218.0,312.1 218.2,313.2 218.7,314.3 219.4,314.9 220.2,316.3 221.4,317.4 222.0,318.5 223.4,318.9 224.7,319.2 226.1,319.6 227.3,319.7 228.4,319.7 229.6,319.8 230.7,319.8 231.9,319.9 233.1,319.9 234.2,319.9 235.4,320.0 236.5,320.1 237.7,320.1 238.8,320.1 240.0,320.2" fill="none" stroke="#000" stroke-width="1.6" stroke-linejoin="round" />
<text transform="translate(134.92,218.93) scale(0.834,1)" font-family='"Liberation Serif", serif' font-weight="bold" font-size="7.31" fill="#000" stroke="#000" stroke-width="0.20">IGG1</text>
<text transform="translate(218.37,257.17) scale(0.990,1)" font-family='"Liberation Serif", serif' font-weight="bold" font-size="6.72" fill="#000" stroke="#000" stroke-width="0.20">CD38</text>
<line x1="282.2" y1="181.3" x2="284.2" y2="318.0" stroke="#000" stroke-width="1.15"/>
<line x1="279.59999999999997" y1="181.3" x2="282.7" y2="181.3" stroke="#000" stroke-width="1.1"/>
<line x1="281.0" y1="194.97" x2="282.4" y2="194.97" stroke="#333" stroke-width="0.9"/>
<line x1="281.2" y1="208.64000000000001" x2="282.59999999999997" y2="208.64000000000001" stroke="#333" stroke-width="0.9"/>
<line x1="281.40000000000003" y1="222.31" x2="282.8" y2="222.31" stroke="#333" stroke-width="0.9"/>
<line x1="281.6" y1="235.98000000000002" x2="283.0" y2="235.98000000000002" stroke="#333" stroke-width="0.9"/>
<line x1="280.59999999999997" y1="249.65" x2="283.2" y2="249.65" stroke="#333" stroke-width="0.9"/>
<line x1="282.0" y1="263.32" x2="283.4" y2="263.32" stroke="#333" stroke-width="0.9"/>
<line x1="282.2" y1="276.99" x2="283.59999999999997" y2="276.99" stroke="#333" stroke-width="0.9"/>
<line x1="282.40000000000003" y1="290.65999999999997" x2="283.8" y2="290.65999999999997" stroke="#333" stroke-width="0.9"/>
<line x1="282.6" y1="304.33000000000004" x2="284.0" y2="304.33000000000004" stroke="#333" stroke-width="0.9"/>
<line x1="280.7" y1="318.0632953784327" x2="433.5" y2="315.3" stroke="#000" stroke-width="1.2"/>
<line x1="287.9325" y1="317.9325" x2="287.9325" y2="319.4325" stroke="#000" stroke-width="1.0"/>
<line x1="291.66499999999996" y1="317.865" x2="291.66499999999996" y2="319.365" stroke="#000" stroke-width="1.0"/>
<line x1="295.3975" y1="317.7975" x2="295.3975" y2="319.2975" stroke="#000" stroke-width="1.0"/>
<line x1="299.13" y1="317.73" x2="299.13" y2="319.23" stroke="#000" stroke-width="1.0"/>
<line x1="302.8625" y1="317.6625" x2="302.8625" y2="319.1625" stroke="#000" stroke-width="1.0"/>
<line x1="306.59499999999997" y1="317.595" x2="306.59499999999997" y2="319.095" stroke="#000" stroke-width="1.0"/>
<line x1="310.3275" y1="317.5275" x2="310.3275" y2="319.0275" stroke="#000" stroke-width="1.0"/>
<line x1="314.06" y1="317.46" x2="314.06" y2="318.96" stroke="#000" stroke-width="1.0"/>
<line x1="317.7925" y1="317.3925" x2="317.7925" y2="318.8925" stroke="#000" stroke-width="1.0"/>
<line x1="321.525" y1="316.825" x2="321.525" y2="319.525" stroke="#000" stroke-width="0.9"/>
<line x1="325.2575" y1="317.2575" x2="325.2575" y2="318.7575" stroke="#000" stroke-width="1.0"/>
<line x1="328.99" y1="317.19" x2="328.99" y2="318.69" stroke="#000" stroke-width="1.0"/>
<line x1="332.72249999999997" y1="317.1225" x2="332.72249999999997" y2="318.6225" stroke="#000" stroke-width="1.0"/>
<line x1="336.455" y1="317.055" x2="336.455" y2="318.555" stroke="#000" stroke-width="1.0"/>
<line x1="340.1875" y1="316.9875" x2="340.1875" y2="318.4875" stroke="#000" stroke-width="1.0"/>
<line x1="343.92" y1="316.92" x2="343.92" y2="318.42" stroke="#000" stroke-width="1.0"/>
<line x1="347.6525" y1="316.8525" x2="347.6525" y2="318.3525" stroke="#000" stroke-width="1.0"/>
<line x1="351.385" y1="316.785" x2="351.385" y2="318.285" stroke="#000" stroke-width="1.0"/>
<line x1="355.1175" y1="316.71750000000003" x2="355.1175" y2="318.21750000000003" stroke="#000" stroke-width="1.0"/>
<line x1="358.85" y1="316.15" x2="358.85" y2="318.84999999999997" stroke="#000" stroke-width="0.9"/>
<line x1="362.5825" y1="316.5825" x2="362.5825" y2="318.0825" stroke="#000" stroke-width="1.0"/>
<line x1="366.315" y1="316.515" x2="366.315" y2="318.015" stroke="#000" stroke-width="1.0"/>
<line x1="370.0475" y1="316.4475" x2="370.0475" y2="317.9475" stroke="#000" stroke-width="1.0"/>
<line x1="373.78" y1="316.38" x2="373.78" y2="317.88" stroke="#000" stroke-width="1.0"/>
<line x1="377.5125" y1="316.3125" x2="377.5125" y2="317.8125" stroke="#000" stroke-width="1.0"/>
<line x1="381.245" y1="316.245" x2="381.245" y2="317.745" stroke="#000" stroke-width="1.0"/>
<line x1="384.97749999999996" y1="316.1775" x2="384.97749999999996" y2="317.6775" stroke="#000" stroke-width="1.0"/>
<line x1="388.71000000000004" y1="316.11" x2="388.71000000000004" y2="317.61" stroke="#000" stroke-width="1.0"/>
<line x1="392.4425" y1="316.0425" x2="392.4425" y2="317.5425" stroke="#000" stroke-width="1.0"/>
<line x1="396.17499999999995" y1="315.475" x2="396.17499999999995" y2="318.175" stroke="#000" stroke-width="0.9"/>
<line x1="399.9075" y1="315.9075" x2="399.9075" y2="317.4075" stroke="#000" stroke-width="1.0"/>
<line x1="403.64" y1="315.84000000000003" x2="403.64" y2="317.34000000000003" stroke="#000" stroke-width="1.0"/>
<line x1="407.3725" y1="315.77250000000004" x2="407.3725" y2="317.27250000000004" stroke="#000" stroke-width="1.0"/>
<line x1="411.105" y1="315.705" x2="411.105" y2="317.205" stroke="#000" stroke-width="1.0"/>
<line x1="414.8375" y1="315.6375" x2="414.8375" y2="317.1375" stroke="#000" stroke-width="1.0"/>
<line x1="418.57" y1="315.57" x2="418.57" y2="317.07" stroke="#000" stroke-width="1.0"/>
<line x1="422.3025" y1="315.5025" x2="422.3025" y2="317.0025" stroke="#000" stroke-width="1.0"/>
<line x1="426.03499999999997" y1="315.435" x2="426.03499999999997" y2="316.935" stroke="#000" stroke-width="1.0"/>
<line x1="429.76750000000004" y1="315.3675" x2="429.76750000000004" y2="316.8675" stroke="#000" stroke-width="1.0"/>
<line x1="433.5" y1="314.8" x2="433.5" y2="317.5" stroke="#000" stroke-width="1.0"/>
<text transform="translate(278.36,325.16) scale(0.991,1)" font-family='"Liberation Serif", serif' font-weight="bold" font-size="6.76" fill="#000" stroke="#000" stroke-width="0.25">10</text>
<text transform="translate(286.05,323.12) scale(1.481,1)" font-family='"Liberation Serif", serif' font-weight="bold" font-size="4.18" fill="#000" stroke="#000" stroke-width="0.20">0</text>
<text transform="translate(315.69,324.49) scale(0.991,1)" font-family='"Liberation Serif", serif' font-weight="bold" font-size="6.76" fill="#000" stroke="#000" stroke-width="0.25">10</text>
<text transform="translate(323.06,322.52) scale(1.656,1)" font-family='"Liberation Serif", serif' font-weight="bold" font-size="4.24" fill="#000" stroke="#000" stroke-width="0.20">1</text>
<text transform="translate(353.01,323.81) scale(0.991,1)" font-family='"Liberation Serif", serif' font-weight="bold" font-size="6.76" fill="#000" stroke="#000" stroke-width="0.25">10</text>
<text transform="translate(360.70,321.81) scale(1.459,1)" font-family='"Liberation Serif", serif' font-weight="bold" font-size="4.24" fill="#000" stroke="#000" stroke-width="0.20">2</text>
<text transform="translate(390.34,323.14) scale(0.991,1)" font-family='"Liberation Serif", serif' font-weight="bold" font-size="6.76" fill="#000" stroke="#000" stroke-width="0.25">10</text>
<text transform="translate(398.03,321.09) scale(1.447,1)" font-family='"Liberation Serif", serif' font-weight="bold" font-size="4.18" fill="#000" stroke="#000" stroke-width="0.20">3</text>
<text transform="translate(427.66,322.46) scale(0.991,1)" font-family='"Liberation Serif", serif' font-weight="bold" font-size="6.76" fill="#000" stroke="#000" stroke-width="0.25">10</text>
<text transform="translate(435.54,320.50) scale(1.284,1)" font-family='"Liberation Serif", serif' font-weight="bold" font-size="4.31" fill="#000" stroke="#000" stroke-width="0.20">4</text>
<text transform="translate(279.60,318.10) rotate(-90)" x="0" y="0" text-anchor="middle" font-family='"Liberation Serif", serif' font-size="6.2" font-weight="bold" fill="#111">0</text>
<text transform="translate(278.74,189.20) rotate(-90) scale(0.966,1)" font-family='"Liberation Serif", serif' font-weight="normal" font-size="8.09" fill="#222" stroke="#222" stroke-width="0.25">120</text>
<polyline points="283.6,317.8 284.9,317.7 286.3,317.7 287.6,317.6 288.7,317.5 289.8,317.4 290.9,317.3 292.0,317.2 293.1,317.1 294.2,317.0 295.0,316.2 295.6,315.4 296.7,314.5 297.9,313.6 298.2,312.3 298.7,311.9 299.8,310.5 300.5,309.0 300.9,308.1 301.7,306.5 301.8,305.4 301.9,304.0 302.3,303.5 302.7,301.7 302.6,300.5 302.6,299.8 302.8,298.5 303.1,297.5 303.9,296.2 303.8,295.3 304.1,294.1 303.9,292.9 304.6,292.2 304.7,291.2 304.8,289.5 304.6,288.6 305.1,287.7 305.5,286.6 305.3,285.2 305.8,284.2 305.6,283.2 305.5,282.1 305.9,280.7 305.5,279.5 305.9,278.5 305.8,277.2 306.1,276.4 306.0,275.1 306.5,274.4 305.8,272.7 306.5,271.7 306.5,270.3 306.4,269.7 306.8,268.5 307.1,267.4 307.2,266.3 307.3,265.1 307.1,263.6 307.1,262.4 307.2,261.6 307.7,260.3 307.3,258.7 307.1,257.5 307.2,256.3 307.4,255.5 308.0,254.2 307.3,253.7 308.1,252.2 307.8,250.9 307.7,249.7 307.9,248.8 307.6,248.1 308.4,246.9 307.8,245.6 307.8,244.5 307.9,243.3 308.0,242.5 308.8,240.9 308.9,240.1 308.3,239.1 309.0,237.4 308.9,236.3 308.8,235.4 308.5,234.2 308.7,233.4 309.3,231.8 309.2,230.5 309.3,229.9 309.8,229.1 309.7,227.5 310.1,226.5 310.1,225.1 310.3,223.9 310.0,222.8 310.2,221.9 310.2,220.9 310.8,219.3 310.6,218.3 310.9,217.7 311.2,216.7 311.0,215.0 311.2,214.0 310.9,212.6 311.5,211.8 311.0,210.5 311.1,209.2 311.5,208.5 311.8,207.3 311.5,206.0 311.5,205.0 311.8,203.4 311.8,203.0 311.9,201.5 312.5,202.7 312.6,203.7 312.7,204.8 313.1,205.7 313.5,207.8 314.2,208.5 314.7,209.2 314.3,210.4 314.4,211.9 314.4,212.9 314.5,214.1 314.6,215.0 314.9,216.1 315.1,217.7 315.2,218.9 315.1,219.9 315.8,221.2 315.6,221.9 315.9,222.9 316.0,224.3 315.8,225.4 315.6,226.0 315.9,227.9 315.8,228.4 316.6,230.1 316.4,230.9 316.9,231.8 316.3,232.9 317.0,234.1 316.9,235.4 317.1,236.1 317.4,238.0 317.6,238.4 317.8,240.2 317.2,240.9 317.3,242.0 318.0,242.9 318.0,244.6 317.5,245.1 318.3,246.9 318.0,248.0 318.3,248.8 318.6,249.5 318.8,250.8 318.6,252.4 318.5,253.6 318.9,254.5 319.0,255.6 319.1,256.7 319.4,257.9 319.2,259.1 319.8,260.0 319.7,261.4 320.0,262.5 320.1,263.1 320.7,264.8 320.8,265.9 320.4,266.8 320.8,268.4 320.9,268.9 320.6,270.2 320.9,271.5 320.7,272.4 321.1,273.5 321.2,275.0 321.8,276.0 322.1,276.9 321.6,278.2 322.4,279.4 322.6,280.6 322.8,281.9 322.7,283.1 322.6,284.6 323.5,285.8 323.2,286.6 323.2,288.0 323.4,288.9 323.8,290.4 323.8,291.1 324.4,292.0 323.8,293.3 324.4,294.6 324.3,296.1 325.1,297.2 325.0,298.0 326.0,298.8 326.1,300.4 326.9,301.8 327.6,302.0 327.8,303.3 328.4,304.5 328.8,304.9 329.6,306.1 331.0,307.0 331.7,307.9 332.7,308.4 333.6,309.6 334.3,310.0 335.6,310.7 337.0,311.5 337.7,312.5 339.1,313.0 339.7,313.0 341.2,314.0 342.1,313.6 343.4,314.2 344.3,314.6 345.4,314.2 347.0,315.0 347.8,314.9 349.2,315.1 349.9,315.0 351.0,315.2 352.4,315.2 354.0,315.0 354.5,314.7 355.9,315.2 357.2,315.1 357.9,315.2 359.3,315.0 360.1,315.5 361.1,314.9 362.4,315.2 363.4,315.4 364.4,315.2 366.2,314.9 366.5,315.4 368.2,314.8 368.7,314.8 370.2,314.9 371.5,315.0 372.5,315.4 373.3,314.8 374.6,315.2 375.4,315.1 377.1,315.3 377.8,315.3 379.2,315.1 380.5,315.6 381.3,315.0 382.7,315.1 383.6,315.6 384.6,315.4" fill="none" stroke="#111" stroke-width="1.2" stroke-linejoin="round" />
<polyline points="284.4,318.0 285.7,317.9 287.1,317.9 288.4,317.8 289.5,317.7 290.6,317.6 291.7,317.5 292.8,317.4 293.9,317.3 295.0,317.2 295.8,316.4 296.4,315.6 297.5,314.7 298.7,313.8 299.0,312.5 299.5,312.1 300.6,310.7 301.3,309.2 301.7,308.3 302.5,306.7 302.6,305.6 302.7,304.2 303.1,303.7 303.5,301.9 303.4,300.7 303.4,300.0 303.6,298.7 303.9,297.7 304.7,296.4 304.6,295.5 304.9,294.3 304.7,293.1 305.4,292.4 305.5,291.4 305.6,289.7 305.4,288.8 305.9,287.9 306.3,286.8 306.1,285.4 306.6,284.4 306.4,283.4 306.3,282.3 306.7,280.9 306.3,279.7 306.7,278.7 306.6,277.4 306.9,276.6 306.8,275.3 307.3,274.6 306.6,272.9 307.3,271.9 307.3,270.5 307.2,269.9 307.6,268.7 307.9,267.6 308.0,266.5 308.1,265.3 307.9,263.8 307.9,262.6 308.0,261.8 308.5,260.5 308.1,258.9 307.9,257.7 308.0,256.5 308.2,255.7 308.8,254.4 308.1,253.9 308.9,252.4 308.6,251.1 308.5,249.9 308.7,249.0 308.4,248.3 309.2,247.1 308.6,245.8 308.6,244.7 308.7,243.5 308.8,242.7 309.6,241.1 309.7,240.3 309.1,239.3 309.8,237.6 309.7,236.5 309.6,235.6 309.3,234.4 309.5,233.6 310.1,232.0 310.0,230.7 310.1,230.1 310.6,229.3 310.5,227.7 310.9,226.7 310.9,225.3 311.1,224.1 310.8,223.0 311.0,222.1 311.0,221.1 311.6,219.5 311.4,218.5 311.7,217.9 312.0,216.9 311.8,215.2 312.0,214.2 311.7,212.8 312.3,212.0 311.8,210.7 311.9,209.4 312.3,208.7 312.6,207.5 312.3,206.2 312.3,205.2 312.6,203.6 312.6,203.2 312.7,201.7 313.3,202.9 313.4,203.9 313.5,205.0 313.9,205.9 314.3,208.0 315.0,208.7 315.5,209.4 315.1,210.6 315.2,212.1 315.2,213.1 315.3,214.3 315.4,215.2 315.7,216.3 315.9,217.9 316.0,219.1 315.9,220.1 316.6,221.4 316.4,222.1 316.7,223.1 316.8,224.5 316.6,225.6 316.4,226.2 316.7,228.1 316.6,228.6 317.4,230.3 317.2,231.1 317.7,232.0 317.1,233.1 317.8,234.3 317.7,235.6 317.9,236.3 318.2,238.2 318.4,238.6 318.6,240.4 318.0,241.1 318.1,242.2 318.8,243.1 318.8,244.8 318.3,245.3 319.1,247.1 318.8,248.2 319.1,249.0 319.4,249.7 319.6,251.0 319.4,252.6 319.3,253.8 319.7,254.7 319.8,255.8 319.9,256.9 320.2,258.1 320.0,259.3 320.6,260.2 320.5,261.6 320.8,262.7 320.9,263.3 321.5,265.0 321.6,266.1 321.2,267.0 321.6,268.6 321.7,269.1 321.4,270.4 321.7,271.7 321.5,272.6 321.9,273.7 322.0,275.2 322.6,276.2 322.9,277.1 322.4,278.4 323.2,279.6 323.4,280.8 323.6,282.1 323.5,283.3 323.4,284.8 324.3,286.0 324.0,286.8 324.0,288.2 324.2,289.1 324.6,290.6 324.6,291.3 325.2,292.2 324.6,293.5 325.2,294.8 325.1,296.3 325.9,297.4 325.8,298.2 326.8,299.0 326.9,300.6 327.7,302.0 328.4,302.2 328.6,303.5 329.2,304.7 329.6,305.1 330.4,306.3 331.8,307.2 332.5,308.1 333.5,308.6 334.4,309.8 335.1,310.2 336.4,310.9 337.8,311.7 338.5,312.7 339.9,313.2 340.5,313.2 342.0,314.2 342.9,313.8 344.2,314.4 345.1,314.8 346.2,314.4 347.8,315.2 348.6,315.1 350.0,315.3 350.7,315.2 351.8,315.4 353.2,315.4 354.8,315.2 355.3,314.9 356.7,315.4 358.0,315.3 358.7,315.4 360.1,315.2 360.9,315.7 361.9,315.1 363.2,315.4 364.2,315.6 365.2,315.4 367.0,315.1 367.3,315.6 369.0,315.0 369.5,315.0 371.0,315.1 372.3,315.2 373.3,315.6 374.1,315.0 375.4,315.4 376.2,315.3 377.9,315.5 378.6,315.5 380.0,315.3 381.3,315.8 382.1,315.2 383.5,315.3 384.4,315.8 385.4,315.6" fill="none" stroke="#111" stroke-width="1.2" stroke-linejoin="round" />
<text transform="translate(291.12,217.82) scale(0.774,1)" font-family='"Liberation Serif", serif' font-weight="bold" font-size="7.61" fill="#000" stroke="#000" stroke-width="0.20">IGG1</text>
<line x1="96.7" y1="365.2" x2="98.5" y2="499.9" stroke="#000" stroke-width="1.15"/>
<line x1="94.10000000000001" y1="365.2" x2="97.2" y2="365.2" stroke="#000" stroke-width="1.1"/>
<line x1="95.47999999999999" y1="378.66999999999996" x2="96.88" y2="378.66999999999996" stroke="#333" stroke-width="0.9"/>
<line x1="95.66" y1="392.14" x2="97.06" y2="392.14" stroke="#333" stroke-width="0.9"/>
<line x1="95.84" y1="405.61" x2="97.24000000000001" y2="405.61" stroke="#333" stroke-width="0.9"/>
<line x1="96.02" y1="419.08" x2="97.42" y2="419.08" stroke="#333" stroke-width="0.9"/>
<line x1="95.0" y1="432.54999999999995" x2="97.6" y2="432.54999999999995" stroke="#333" stroke-width="0.9"/>
<line x1="96.38" y1="446.02" x2="97.78" y2="446.02" stroke="#333" stroke-width="0.9"/>
<line x1="96.56" y1="459.49" x2="97.96000000000001" y2="459.49" stroke="#333" stroke-width="0.9"/>
<line x1="96.74" y1="472.96" x2="98.14" y2="472.96" stroke="#333" stroke-width="0.9"/>
<line x1="96.91999999999999" y1="486.42999999999995" x2="98.32" y2="486.42999999999995" stroke="#333" stroke-width="0.9"/>
<line x1="95.0" y1="499.9747164776517" x2="248.4" y2="496.7" stroke="#000" stroke-width="1.2"/>
<line x1="102.2475" y1="499.82" x2="102.2475" y2="501.32" stroke="#000" stroke-width="1.0"/>
<line x1="105.995" y1="499.73999999999995" x2="105.995" y2="501.23999999999995" stroke="#000" stroke-width="1.0"/>
<line x1="109.7425" y1="499.65999999999997" x2="109.7425" y2="501.15999999999997" stroke="#000" stroke-width="1.0"/>
<line x1="113.49" y1="499.58" x2="113.49" y2="501.08" stroke="#000" stroke-width="1.0"/>
<line x1="117.2375" y1="499.5" x2="117.2375" y2="501.0" stroke="#000" stroke-width="1.0"/>
<line x1="120.985" y1="499.41999999999996" x2="120.985" y2="500.91999999999996" stroke="#000" stroke-width="1.0"/>
<line x1="124.7325" y1="499.34" x2="124.7325" y2="500.84" stroke="#000" stroke-width="1.0"/>
<line x1="128.48" y1="499.26" x2="128.48" y2="500.76" stroke="#000" stroke-width="1.0"/>
<line x1="132.22750000000002" y1="499.18" x2="132.22750000000002" y2="500.68" stroke="#000" stroke-width="1.0"/>
<line x1="135.975" y1="498.59999999999997" x2="135.975" y2="501.29999999999995" stroke="#000" stroke-width="0.9"/>
<line x1="139.7225" y1="499.02" x2="139.7225" y2="500.52" stroke="#000" stroke-width="1.0"/>
<line x1="143.47" y1="498.94" x2="143.47" y2="500.44" stroke="#000" stroke-width="1.0"/>
<line x1="147.2175" y1="498.85999999999996" x2="147.2175" y2="500.35999999999996" stroke="#000" stroke-width="1.0"/>
<line x1="150.965" y1="498.78" x2="150.965" y2="500.28" stroke="#000" stroke-width="1.0"/>
<line x1="154.7125" y1="498.7" x2="154.7125" y2="500.2" stroke="#000" stroke-width="1.0"/>
<line x1="158.46" y1="498.62" x2="158.46" y2="500.12" stroke="#000" stroke-width="1.0"/>
<line x1="162.2075" y1="498.53999999999996" x2="162.2075" y2="500.03999999999996" stroke="#000" stroke-width="1.0"/>
<line x1="165.955" y1="498.46" x2="165.955" y2="499.96" stroke="#000" stroke-width="1.0"/>
<line x1="169.7025" y1="498.38" x2="169.7025" y2="499.88" stroke="#000" stroke-width="1.0"/>
<line x1="173.45" y1="497.8" x2="173.45" y2="500.5" stroke="#000" stroke-width="0.9"/>
<line x1="177.1975" y1="498.21999999999997" x2="177.1975" y2="499.71999999999997" stroke="#000" stroke-width="1.0"/>
<line x1="180.945" y1="498.14" x2="180.945" y2="499.64" stroke="#000" stroke-width="1.0"/>
<line x1="184.6925" y1="498.06" x2="184.6925" y2="499.56" stroke="#000" stroke-width="1.0"/>
<line x1="188.44" y1="497.97999999999996" x2="188.44" y2="499.47999999999996" stroke="#000" stroke-width="1.0"/>
<line x1="192.1875" y1="497.9" x2="192.1875" y2="499.4" stroke="#000" stroke-width="1.0"/>
<line x1="195.935" y1="497.82" x2="195.935" y2="499.32" stroke="#000" stroke-width="1.0"/>
<line x1="199.6825" y1="497.74" x2="199.6825" y2="499.24" stroke="#000" stroke-width="1.0"/>
<line x1="203.43" y1="497.65999999999997" x2="203.43" y2="499.15999999999997" stroke="#000" stroke-width="1.0"/>
<line x1="207.1775" y1="497.58" x2="207.1775" y2="499.08" stroke="#000" stroke-width="1.0"/>
<line x1="210.925" y1="497.0" x2="210.925" y2="499.7" stroke="#000" stroke-width="0.9"/>
<line x1="214.6725" y1="497.41999999999996" x2="214.6725" y2="498.91999999999996" stroke="#000" stroke-width="1.0"/>
<line x1="218.42000000000002" y1="497.34" x2="218.42000000000002" y2="498.84" stroke="#000" stroke-width="1.0"/>
<line x1="222.1675" y1="497.26" x2="222.1675" y2="498.76" stroke="#000" stroke-width="1.0"/>
<line x1="225.91500000000002" y1="497.18" x2="225.91500000000002" y2="498.68" stroke="#000" stroke-width="1.0"/>
<line x1="229.6625" y1="497.09999999999997" x2="229.6625" y2="498.59999999999997" stroke="#000" stroke-width="1.0"/>
<line x1="233.41000000000003" y1="497.02" x2="233.41000000000003" y2="498.52" stroke="#000" stroke-width="1.0"/>
<line x1="237.1575" y1="496.94" x2="237.1575" y2="498.44" stroke="#000" stroke-width="1.0"/>
<line x1="240.905" y1="496.86" x2="240.905" y2="498.36" stroke="#000" stroke-width="1.0"/>
<line x1="244.6525" y1="496.78" x2="244.6525" y2="498.28" stroke="#000" stroke-width="1.0"/>
<line x1="248.4" y1="496.2" x2="248.4" y2="498.9" stroke="#000" stroke-width="1.0"/>
<text transform="translate(92.66,507.06) scale(0.991,1)" font-family='"Liberation Serif", serif' font-weight="bold" font-size="6.76" fill="#000" stroke="#000" stroke-width="0.25">10</text>
<text transform="translate(100.35,505.02) scale(1.481,1)" font-family='"Liberation Serif", serif' font-weight="bold" font-size="4.18" fill="#000" stroke="#000" stroke-width="0.20">0</text>
<text transform="translate(130.14,506.26) scale(0.991,1)" font-family='"Liberation Serif", serif' font-weight="bold" font-size="6.76" fill="#000" stroke="#000" stroke-width="0.25">10</text>
<text transform="translate(137.51,504.30) scale(1.656,1)" font-family='"Liberation Serif", serif' font-weight="bold" font-size="4.24" fill="#000" stroke="#000" stroke-width="0.20">1</text>
<text transform="translate(167.61,505.46) scale(0.991,1)" font-family='"Liberation Serif", serif' font-weight="bold" font-size="6.76" fill="#000" stroke="#000" stroke-width="0.25">10</text>
<text transform="translate(175.30,503.46) scale(1.459,1)" font-family='"Liberation Serif", serif' font-weight="bold" font-size="4.24" fill="#000" stroke="#000" stroke-width="0.20">2</text>
<text transform="translate(205.09,504.66) scale(0.991,1)" font-family='"Liberation Serif", serif' font-weight="bold" font-size="6.76" fill="#000" stroke="#000" stroke-width="0.25">10</text>
<text transform="translate(212.78,502.62) scale(1.447,1)" font-family='"Liberation Serif", serif' font-weight="bold" font-size="4.18" fill="#000" stroke="#000" stroke-width="0.20">3</text>
<text transform="translate(242.56,503.86) scale(0.991,1)" font-family='"Liberation Serif", serif' font-weight="bold" font-size="6.76" fill="#000" stroke="#000" stroke-width="0.25">10</text>
<text transform="translate(250.44,501.90) scale(1.284,1)" font-family='"Liberation Serif", serif' font-weight="bold" font-size="4.31" fill="#000" stroke="#000" stroke-width="0.20">4</text>
<text transform="translate(93.90,500.00) rotate(-90)" x="0" y="0" text-anchor="middle" font-family='"Liberation Serif", serif' font-size="6.2" font-weight="bold" fill="#111">0</text>
<text transform="translate(92.66,372.66) rotate(-90) scale(1.067,1)" font-family='"Liberation Serif", serif' font-weight="normal" font-size="6.91" fill="#222" stroke="#222" stroke-width="0.25">128</text>
<polyline points="99.0,499.6 100.1,499.6 101.3,499.6 102.4,499.6 103.2,498.8 104.0,498.0 105.2,497.4 105.6,496.8 106.4,495.6 107.5,494.4 107.8,493.1 108.7,492.8 108.9,490.9 109.8,490.2 110.6,489.3 110.3,488.2 110.5,486.4 110.9,485.7 111.4,484.5 111.8,483.5 111.6,482.6 112.3,481.6 112.6,480.2 112.5,478.6 112.9,477.6 113.1,476.3 113.6,475.4 113.3,473.8 113.8,473.1 114.2,471.9 113.9,470.9 114.5,469.3 114.8,468.4 114.9,467.2 114.3,466.4 114.9,464.9 114.7,463.8 114.8,463.3 115.2,461.9 115.3,461.1 115.4,460.0 115.5,458.4 115.4,457.6 115.8,456.1 116.1,455.2 115.6,454.3 116.2,452.7 116.3,451.4 116.2,450.4 116.6,449.5 116.5,448.5 116.9,447.6 116.7,446.5 116.4,445.1 116.8,444.4 116.8,442.5 116.9,441.4 117.4,440.3 117.1,439.4 117.6,438.6 117.4,437.7 118.0,436.0 117.9,435.0 118.2,433.8 117.6,432.4 117.7,431.3 117.8,430.0 117.7,428.8 117.5,427.8 117.9,426.5 118.4,425.6 118.2,423.9 117.8,422.9 118.1,421.4 118.5,420.9 118.7,419.5 118.6,418.7 118.6,417.1 118.8,416.0 118.8,415.3 119.1,413.5 118.6,412.3 118.8,411.5 119.1,410.9 119.2,409.0 118.9,408.4 119.2,407.0 119.2,405.9 119.0,405.0 119.5,403.7 119.4,403.1 118.9,401.2 119.8,400.6 120.1,399.4 119.4,397.8 119.9,396.9 120.8,395.6 120.8,394.2 120.9,392.8 121.2,391.5 121.0,390.4 121.4,389.4 121.5,388.8 121.4,387.1 121.9,386.2 121.9,385.3 121.8,383.8 122.5,382.6 122.6,381.6 122.2,380.5 122.4,379.6 122.7,378.7 122.5,377.6 122.6,376.1 122.7,376.9 122.8,378.1 123.0,379.8 122.9,380.3 123.2,381.6 123.4,382.8 123.3,383.9 123.1,385.4 123.3,386.2 123.9,387.2 124.6,388.8 124.9,390.2 124.8,391.6 124.8,392.7 125.8,393.8 125.3,394.6 125.8,395.9 126.0,396.9 126.5,398.0 125.7,399.3 126.2,400.3 125.9,401.5 126.7,403.0 126.8,403.6 126.6,405.0 127.0,405.9 126.5,406.8 127.0,408.0 126.3,409.0 127.1,410.2 126.4,411.8 126.6,412.7 126.8,413.4 126.6,415.1 127.2,415.7 127.0,417.1 127.4,418.8 127.6,420.1 128.0,421.1 128.0,422.6 128.1,423.5 128.7,425.6 128.6,426.5 129.0,427.7 129.0,428.4 128.5,430.1 128.9,431.6 129.1,432.0 129.0,433.8 129.3,435.1 129.5,436.0 129.5,437.0 129.5,438.0 129.7,439.2 130.2,440.7 129.5,441.3 130.1,443.0 130.2,443.8 130.4,445.3 130.3,446.2 130.2,447.7 130.3,448.5 130.5,449.4 130.4,451.0 130.6,452.1 130.8,453.1 130.4,454.0 130.5,455.6 131.1,456.5 131.2,457.4 131.4,458.8 131.5,459.6 131.0,460.5 131.3,461.9 131.4,463.2 131.9,464.0 131.7,464.9 132.3,466.6 131.9,467.7 132.4,468.4 132.1,469.4 132.1,470.6 132.3,471.9 132.6,473.5 132.5,474.5 133.0,475.4 133.1,476.5 133.0,478.1 133.6,479.2 133.5,480.4 134.2,481.5 133.7,482.5 134.3,483.5 134.4,484.9 134.5,485.4 134.9,487.0 135.3,488.0 135.4,489.1 135.4,490.2 136.2,491.9 136.7,492.9 138.0,494.0 139.4,495.6 141.0,497.0 142.2,498.0 143.5,499.0 144.8,499.1 146.1,499.1 147.4,499.2 148.7,499.2 150.0,499.3" fill="none" stroke="#111" stroke-width="1.15" stroke-linejoin="round" />
<polyline points="117.9,498.9 119.1,498.7 120.2,498.5 121.4,498.3 122.5,498.2 123.7,498.0 124.8,497.8 126.0,497.6 127.6,496.9 128.3,496.7 130.0,496.3 131.3,496.2 132.5,496.2 134.5,495.0 135.4,494.9 136.7,494.1 137.3,494.1 138.2,493.4 139.4,492.9 140.5,493.1 142.0,492.7 143.5,492.2 144.5,491.3 144.9,490.6 146.1,489.5 147.7,489.5 148.8,488.8 150.0,488.8 150.7,487.8 151.5,486.1 152.1,484.4 152.7,483.5 154.2,482.1 154.4,480.7 154.2,480.1 154.6,478.9 154.8,477.4 154.9,476.6 155.4,475.4 156.2,476.7 156.4,475.5 156.6,474.1 157.2,473.0 157.3,472.3 157.2,471.2 157.4,470.0 158.3,471.3 158.9,470.2 159.8,468.4 160.1,467.3 160.9,466.0 161.7,465.3 162.5,464.6 162.8,463.3 162.8,461.9 163.6,460.6 164.2,459.2 164.1,457.9 163.9,456.6 164.1,456.0 164.3,454.9 164.6,453.6 165.3,451.9 165.6,451.1 165.5,449.8 165.8,450.8 165.7,452.4 166.5,452.9 166.2,454.4 166.2,455.3 166.8,456.5 167.0,455.8 166.9,454.4 167.2,453.4 167.7,451.7 167.9,451.0 168.3,449.7 168.4,448.2 168.8,447.1 168.8,446.4 169.1,447.4 169.0,448.8 169.3,450.1 169.5,451.1 169.5,452.4 169.7,453.1 169.8,454.8 169.7,455.6 170.1,456.7 170.2,457.9 171.2,456.6 171.7,456.0 172.2,454.5 172.7,453.2 173.1,452.0 173.9,450.7 174.2,449.8 175.6,448.5 175.9,449.6 175.7,450.8 176.1,452.1 176.6,453.1 176.7,454.0 176.9,455.2 177.7,453.9 178.5,453.3 178.9,451.8 179.6,452.9 181.0,453.2 181.1,454.6 182.1,454.8 182.9,456.6 183.0,457.2 183.5,458.6 183.5,459.5 184.1,460.9 184.5,461.7 185.0,463.3 185.3,463.9 186.3,465.2 186.9,466.6 187.0,467.3 187.3,468.2 187.9,469.3 188.5,470.4 189.0,471.8 189.0,472.7 189.7,474.2 189.4,475.3 189.6,476.5 190.0,477.0 190.6,477.9 191.0,479.4 191.5,480.4 191.7,481.9 192.0,483.0 192.4,483.3 193.1,484.8 193.7,485.5 194.2,487.0 195.0,487.7 195.7,489.3 195.8,490.2 196.4,491.2 197.6,492.2 198.6,493.3 199.1,494.2 200.6,494.9 201.3,495.7 202.5,496.9 204.1,497.4 205.2,497.6 206.5,498.0 207.9,498.3 209.2,498.7 210.6,499.0 211.8,499.0 212.9,499.1 214.1,499.1 215.3,499.1 216.5,499.1 217.7,499.1 218.8,499.2 220.0,499.2" fill="none" stroke="#000" stroke-width="1.6" stroke-linejoin="round" />
<text transform="translate(131.82,387.43) scale(0.910,1)" font-family='"Liberation Serif", serif' font-weight="bold" font-size="6.57" fill="#000" stroke="#000" stroke-width="0.20">IGG1</text>
<text transform="translate(199.46,457.96) scale(0.979,1)" font-family='"Liberation Serif", serif' font-weight="bold" font-size="7.01" fill="#000" stroke="#000" stroke-width="0.20">CD38</text>
<line x1="279.4" y1="365.4" x2="280.1" y2="499.4" stroke="#000" stroke-width="1.15"/>
<line x1="276.79999999999995" y1="365.4" x2="279.9" y2="365.4" stroke="#000" stroke-width="1.1"/>
<line x1="278.07" y1="378.79999999999995" x2="279.46999999999997" y2="378.79999999999995" stroke="#333" stroke-width="0.9"/>
<line x1="278.14" y1="392.2" x2="279.53999999999996" y2="392.2" stroke="#333" stroke-width="0.9"/>
<line x1="278.21000000000004" y1="405.59999999999997" x2="279.61" y2="405.59999999999997" stroke="#333" stroke-width="0.9"/>
<line x1="278.28000000000003" y1="419.0" x2="279.68" y2="419.0" stroke="#333" stroke-width="0.9"/>
<line x1="277.15" y1="432.4" x2="279.75" y2="432.4" stroke="#333" stroke-width="0.9"/>
<line x1="278.42" y1="445.79999999999995" x2="279.82" y2="445.79999999999995" stroke="#333" stroke-width="0.9"/>
<line x1="278.49" y1="459.2" x2="279.89" y2="459.2" stroke="#333" stroke-width="0.9"/>
<line x1="278.56000000000006" y1="472.59999999999997" x2="279.96000000000004" y2="472.59999999999997" stroke="#333" stroke-width="0.9"/>
<line x1="278.63000000000005" y1="486.0" x2="280.03000000000003" y2="486.0" stroke="#333" stroke-width="0.9"/>
<line x1="276.6" y1="499.42790697674417" x2="430.6" y2="498.2" stroke="#000" stroke-width="1.2"/>
<line x1="283.8625" y1="499.37" x2="283.8625" y2="500.87" stroke="#000" stroke-width="1.0"/>
<line x1="287.625" y1="499.34" x2="287.625" y2="500.84" stroke="#000" stroke-width="1.0"/>
<line x1="291.38750000000005" y1="499.31" x2="291.38750000000005" y2="500.81" stroke="#000" stroke-width="1.0"/>
<line x1="295.15000000000003" y1="499.28" x2="295.15000000000003" y2="500.78" stroke="#000" stroke-width="1.0"/>
<line x1="298.9125" y1="499.25" x2="298.9125" y2="500.75" stroke="#000" stroke-width="1.0"/>
<line x1="302.675" y1="499.21999999999997" x2="302.675" y2="500.71999999999997" stroke="#000" stroke-width="1.0"/>
<line x1="306.4375" y1="499.19" x2="306.4375" y2="500.69" stroke="#000" stroke-width="1.0"/>
<line x1="310.20000000000005" y1="499.15999999999997" x2="310.20000000000005" y2="500.65999999999997" stroke="#000" stroke-width="1.0"/>
<line x1="313.96250000000003" y1="499.13" x2="313.96250000000003" y2="500.63" stroke="#000" stroke-width="1.0"/>
<line x1="317.725" y1="498.59999999999997" x2="317.725" y2="501.29999999999995" stroke="#000" stroke-width="0.9"/>
<line x1="321.4875" y1="499.07" x2="321.4875" y2="500.57" stroke="#000" stroke-width="1.0"/>
<line x1="325.25" y1="499.03999999999996" x2="325.25" y2="500.53999999999996" stroke="#000" stroke-width="1.0"/>
<line x1="329.01250000000005" y1="499.01" x2="329.01250000000005" y2="500.51" stroke="#000" stroke-width="1.0"/>
<line x1="332.77500000000003" y1="498.97999999999996" x2="332.77500000000003" y2="500.47999999999996" stroke="#000" stroke-width="1.0"/>
<line x1="336.5375" y1="498.95" x2="336.5375" y2="500.45" stroke="#000" stroke-width="1.0"/>
<line x1="340.3" y1="498.91999999999996" x2="340.3" y2="500.41999999999996" stroke="#000" stroke-width="1.0"/>
<line x1="344.0625" y1="498.89" x2="344.0625" y2="500.39" stroke="#000" stroke-width="1.0"/>
<line x1="347.82500000000005" y1="498.85999999999996" x2="347.82500000000005" y2="500.35999999999996" stroke="#000" stroke-width="1.0"/>
<line x1="351.58750000000003" y1="498.83" x2="351.58750000000003" y2="500.33" stroke="#000" stroke-width="1.0"/>
<line x1="355.35" y1="498.29999999999995" x2="355.35" y2="500.99999999999994" stroke="#000" stroke-width="0.9"/>
<line x1="359.1125" y1="498.77" x2="359.1125" y2="500.27" stroke="#000" stroke-width="1.0"/>
<line x1="362.875" y1="498.74" x2="362.875" y2="500.24" stroke="#000" stroke-width="1.0"/>
<line x1="366.63750000000005" y1="498.71" x2="366.63750000000005" y2="500.21" stroke="#000" stroke-width="1.0"/>
<line x1="370.40000000000003" y1="498.68" x2="370.40000000000003" y2="500.18" stroke="#000" stroke-width="1.0"/>
<line x1="374.1625" y1="498.65" x2="374.1625" y2="500.15" stroke="#000" stroke-width="1.0"/>
<line x1="377.925" y1="498.62" x2="377.925" y2="500.12" stroke="#000" stroke-width="1.0"/>
<line x1="381.6875" y1="498.59" x2="381.6875" y2="500.09" stroke="#000" stroke-width="1.0"/>
<line x1="385.45000000000005" y1="498.56" x2="385.45000000000005" y2="500.06" stroke="#000" stroke-width="1.0"/>
<line x1="389.21250000000003" y1="498.53" x2="389.21250000000003" y2="500.03" stroke="#000" stroke-width="1.0"/>
<line x1="392.975" y1="498.0" x2="392.975" y2="500.7" stroke="#000" stroke-width="0.9"/>
<line x1="396.7375" y1="498.46999999999997" x2="396.7375" y2="499.96999999999997" stroke="#000" stroke-width="1.0"/>
<line x1="400.5" y1="498.44" x2="400.5" y2="499.94" stroke="#000" stroke-width="1.0"/>
<line x1="404.26250000000005" y1="498.40999999999997" x2="404.26250000000005" y2="499.90999999999997" stroke="#000" stroke-width="1.0"/>
<line x1="408.02500000000003" y1="498.38" x2="408.02500000000003" y2="499.88" stroke="#000" stroke-width="1.0"/>
<line x1="411.7875" y1="498.34999999999997" x2="411.7875" y2="499.84999999999997" stroke="#000" stroke-width="1.0"/>
<line x1="415.55" y1="498.32" x2="415.55" y2="499.82" stroke="#000" stroke-width="1.0"/>
<line x1="419.3125" y1="498.28999999999996" x2="419.3125" y2="499.78999999999996" stroke="#000" stroke-width="1.0"/>
<line x1="423.07500000000005" y1="498.26" x2="423.07500000000005" y2="499.76" stroke="#000" stroke-width="1.0"/>
<line x1="426.83750000000003" y1="498.22999999999996" x2="426.83750000000003" y2="499.72999999999996" stroke="#000" stroke-width="1.0"/>
<line x1="430.6" y1="497.7" x2="430.6" y2="500.4" stroke="#000" stroke-width="1.0"/>
<text transform="translate(274.26,506.56) scale(0.991,1)" font-family='"Liberation Serif", serif' font-weight="bold" font-size="6.76" fill="#000" stroke="#000" stroke-width="0.25">10</text>
<text transform="translate(281.95,504.52) scale(1.481,1)" font-family='"Liberation Serif", serif' font-weight="bold" font-size="4.18" fill="#000" stroke="#000" stroke-width="0.20">0</text>
<text transform="translate(311.89,506.26) scale(0.991,1)" font-family='"Liberation Serif", serif' font-weight="bold" font-size="6.76" fill="#000" stroke="#000" stroke-width="0.25">10</text>
<text transform="translate(319.26,504.30) scale(1.656,1)" font-family='"Liberation Serif", serif' font-weight="bold" font-size="4.24" fill="#000" stroke="#000" stroke-width="0.20">1</text>
<text transform="translate(349.51,505.96) scale(0.991,1)" font-family='"Liberation Serif", serif' font-weight="bold" font-size="6.76" fill="#000" stroke="#000" stroke-width="0.25">10</text>
<text transform="translate(357.20,503.96) scale(1.459,1)" font-family='"Liberation Serif", serif' font-weight="bold" font-size="4.24" fill="#000" stroke="#000" stroke-width="0.20">2</text>
<text transform="translate(387.14,505.66) scale(0.991,1)" font-family='"Liberation Serif", serif' font-weight="bold" font-size="6.76" fill="#000" stroke="#000" stroke-width="0.25">10</text>
<text transform="translate(394.83,503.62) scale(1.447,1)" font-family='"Liberation Serif", serif' font-weight="bold" font-size="4.18" fill="#000" stroke="#000" stroke-width="0.20">3</text>
<text transform="translate(424.76,505.36) scale(0.991,1)" font-family='"Liberation Serif", serif' font-weight="bold" font-size="6.76" fill="#000" stroke="#000" stroke-width="0.25">10</text>
<text transform="translate(432.64,503.40) scale(1.284,1)" font-family='"Liberation Serif", serif' font-weight="bold" font-size="4.31" fill="#000" stroke="#000" stroke-width="0.20">4</text>
<text transform="translate(275.50,499.50) rotate(-90)" x="0" y="0" text-anchor="middle" font-family='"Liberation Serif", serif' font-size="6.2" font-weight="bold" fill="#111">0</text>
<text transform="translate(275.76,373.05) rotate(-90) scale(1.182,1)" font-family='"Liberation Serif", serif' font-weight="normal" font-size="7.06" fill="#222" stroke="#222" stroke-width="0.25">110</text>
<polyline points="280.6,498.9 282.5,498.6 283.8,498.4 285.1,498.1 286.3,497.9 287.6,497.6 288.3,497.2 289.5,495.7 290.6,495.2 291.6,494.7 292.2,493.5 293.3,492.6 293.5,491.0 294.4,490.2 295.2,488.7 295.4,488.1 295.9,486.9 296.4,485.3 296.8,484.4 297.3,483.3 297.6,482.2 298.1,481.0 298.1,479.7 298.0,479.2 298.8,477.7 298.6,476.9 298.7,475.7 299.2,474.2 299.4,472.9 299.3,472.3 300.2,470.9 299.6,469.5 300.0,468.1 300.2,467.6 300.6,466.5 301.1,465.4 301.3,464.2 301.3,462.8 301.6,462.0 301.5,460.8 302.0,459.7 302.3,457.8 301.9,457.5 302.5,455.8 302.2,454.4 302.6,453.6 302.8,452.3 303.0,451.4 303.2,450.5 303.0,449.0 303.3,447.8 303.4,446.9 303.8,446.0 303.6,444.6 303.4,443.3 304.3,442.5 303.9,441.6 304.1,440.0 304.3,438.5 304.5,437.6 304.2,437.0 304.1,435.8 304.5,434.0 304.1,433.2 304.3,431.9 304.0,431.2 304.4,429.9 304.2,428.8 304.7,427.5 304.8,426.5 304.9,425.2 304.9,424.6 304.7,423.1 305.0,422.2 305.2,420.6 304.9,419.7 305.4,418.4 305.6,417.2 305.5,416.5 305.8,415.4 306.3,414.6 306.6,413.6 306.1,411.7 306.6,410.6 306.4,409.6 306.8,408.6 306.7,407.6 307.1,406.5 307.2,405.1 307.9,404.1 308.1,402.8 307.9,401.9 308.0,400.4 308.6,399.2 310.1,398.0 310.0,397.0 310.1,395.7 310.7,394.9 310.3,393.7 310.9,392.4 310.5,390.7 310.8,389.8 310.9,391.2 311.0,391.9 311.3,393.2 311.3,394.4 311.5,395.6 311.1,396.6 311.2,398.0 311.7,399.1 311.7,400.3 311.9,401.9 311.7,403.0 312.5,404.1 312.2,405.7 312.0,406.4 312.4,407.5 312.5,408.6 312.5,409.8 313.1,410.6 313.4,412.4 313.2,413.2 313.6,414.3 313.5,415.4 314.0,416.4 314.1,417.5 313.7,419.0 313.8,420.1 313.9,421.3 314.2,422.1 314.4,423.2 314.6,424.7 314.9,425.4 314.8,426.1 315.2,427.3 315.3,428.8 315.3,429.5 315.4,431.1 315.8,432.6 315.4,433.4 315.6,434.6 315.6,435.2 316.2,436.9 316.3,437.4 316.5,439.1 316.2,440.0 316.1,440.8 316.7,442.4 316.8,443.6 316.6,444.7 317.3,445.3 316.8,446.6 317.6,447.6 317.3,449.4 317.7,450.5 317.9,451.5 318.2,452.9 318.7,454.1 318.0,455.3 318.5,456.1 318.9,457.0 319.4,458.6 319.5,459.8 319.3,460.5 319.6,461.8 319.7,463.1 320.1,463.9 320.4,465.1 320.6,466.8 320.4,468.0 321.0,468.7 320.8,470.4 321.2,471.5 321.9,471.9 321.8,473.2 322.0,474.6 321.9,475.6 323.2,476.7 322.8,478.4 323.5,479.0 324.2,480.4 324.3,481.5 325.1,482.6 325.4,483.9 326.4,484.6 326.8,485.0 326.8,486.0 327.7,487.3 328.7,488.2 329.3,489.1 330.5,490.5 331.8,491.0 332.4,491.9 333.1,492.8 334.1,493.5 335.3,493.9 336.4,494.7 337.0,495.4 338.5,495.2 339.6,495.6 340.7,495.9 341.7,496.5 342.7,496.5 343.7,496.6 344.6,496.8 346.4,496.7 347.4,496.7 348.0,496.6 349.3,496.8 350.8,496.6 351.9,496.5 352.4,496.8 353.7,496.7 355.3,496.7 356.7,496.5 356.9,496.4 358.8,496.8 359.6,496.8 361.2,496.4 361.8,497.2 363.3,497.1 364.5,496.6 365.2,496.9 366.6,496.9 367.8,496.9 368.9,496.9 370.1,496.9 371.3,497.0 372.4,497.0 373.6,497.0 374.7,497.1 375.9,497.1 377.0,497.2 378.2,497.2 379.3,497.3 380.5,497.3 381.6,497.4" fill="none" stroke="#111" stroke-width="1.2" stroke-linejoin="round" />
<polyline points="281.4,499.1 283.3,498.8 284.6,498.6 285.8,498.3 287.1,498.1 288.4,497.8 289.1,497.4 290.3,495.9 291.4,495.4 292.4,494.9 293.0,493.7 294.1,492.8 294.3,491.2 295.2,490.4 296.0,488.9 296.2,488.3 296.7,487.1 297.2,485.5 297.6,484.6 298.1,483.5 298.4,482.4 298.9,481.2 298.9,479.9 298.8,479.4 299.6,477.9 299.4,477.1 299.5,475.9 300.0,474.4 300.2,473.1 300.1,472.5 301.0,471.1 300.4,469.7 300.8,468.3 301.0,467.8 301.4,466.7 301.9,465.6 302.1,464.4 302.1,463.0 302.4,462.2 302.3,461.0 302.8,459.9 303.1,458.0 302.7,457.7 303.3,456.0 303.0,454.6 303.4,453.8 303.6,452.5 303.8,451.6 304.0,450.7 303.8,449.2 304.1,448.0 304.2,447.1 304.6,446.2 304.4,444.8 304.2,443.5 305.1,442.7 304.7,441.8 304.9,440.2 305.1,438.7 305.3,437.8 305.0,437.2 304.9,436.0 305.3,434.2 304.9,433.4 305.1,432.1 304.8,431.4 305.2,430.1 305.0,429.0 305.5,427.7 305.6,426.7 305.7,425.4 305.7,424.8 305.5,423.3 305.8,422.4 306.0,420.8 305.7,419.9 306.2,418.6 306.4,417.4 306.3,416.7 306.6,415.6 307.1,414.8 307.4,413.8 306.9,411.9 307.4,410.8 307.2,409.8 307.6,408.8 307.5,407.8 307.9,406.7 308.0,405.3 308.7,404.3 308.9,403.0 308.7,402.1 308.8,400.6 309.4,399.4 310.9,398.2 310.8,397.2 310.9,395.9 311.5,395.1 311.1,393.9 311.7,392.6 311.3,390.9 311.6,390.0 311.7,391.4 311.8,392.1 312.1,393.4 312.1,394.6 312.3,395.8 311.9,396.8 312.0,398.2 312.5,399.3 312.5,400.5 312.7,402.1 312.5,403.2 313.3,404.3 313.0,405.9 312.8,406.6 313.2,407.7 313.3,408.8 313.3,410.0 313.9,410.8 314.2,412.6 314.0,413.4 314.4,414.5 314.3,415.6 314.8,416.6 314.9,417.7 314.5,419.2 314.6,420.3 314.7,421.5 315.0,422.3 315.2,423.4 315.4,424.9 315.7,425.6 315.6,426.3 316.0,427.5 316.1,429.0 316.1,429.7 316.2,431.3 316.6,432.8 316.2,433.6 316.4,434.8 316.4,435.4 317.0,437.1 317.1,437.6 317.3,439.3 317.0,440.2 316.9,441.0 317.5,442.6 317.6,443.8 317.4,444.9 318.1,445.5 317.6,446.8 318.4,447.8 318.1,449.6 318.5,450.7 318.7,451.7 319.0,453.1 319.5,454.3 318.8,455.5 319.3,456.3 319.7,457.2 320.2,458.8 320.3,460.0 320.1,460.7 320.4,462.0 320.5,463.3 320.9,464.1 321.2,465.3 321.4,467.0 321.2,468.2 321.8,468.9 321.6,470.6 322.0,471.7 322.7,472.1 322.6,473.4 322.8,474.8 322.7,475.8 324.0,476.9 323.6,478.6 324.3,479.2 325.0,480.6 325.1,481.7 325.9,482.8 326.2,484.1 327.2,484.8 327.6,485.2 327.6,486.2 328.5,487.5 329.5,488.4 330.1,489.3 331.3,490.7 332.6,491.2 333.2,492.1 333.9,493.0 334.9,493.7 336.1,494.1 337.2,494.9 337.8,495.6 339.3,495.4 340.4,495.8 341.5,496.1 342.5,496.7 343.5,496.7 344.5,496.8 345.4,497.0 347.2,496.9 348.2,496.9 348.8,496.8 350.1,497.0 351.6,496.8 352.7,496.7 353.2,497.0 354.5,496.9 356.1,496.9 357.5,496.7 357.7,496.6 359.6,497.0 360.4,497.0 362.0,496.6 362.6,497.4 364.1,497.3 365.3,496.8 366.0,497.1 367.4,497.1 368.6,497.1 369.7,497.1 370.9,497.1 372.1,497.2 373.2,497.2 374.4,497.2 375.5,497.3 376.7,497.3 377.8,497.4 379.0,497.4 380.1,497.5 381.3,497.5 382.4,497.6" fill="none" stroke="#111" stroke-width="1.2" stroke-linejoin="round" />
<text transform="translate(288.11,399.83) scale(0.955,1)" font-family='"Liberation Serif", serif' font-weight="bold" font-size="6.57" fill="#000" stroke="#000" stroke-width="0.20">IGG1</text>
<circle cx="82.4" cy="362" r="0.7" fill="#000"/>
</svg>
</body></html>
